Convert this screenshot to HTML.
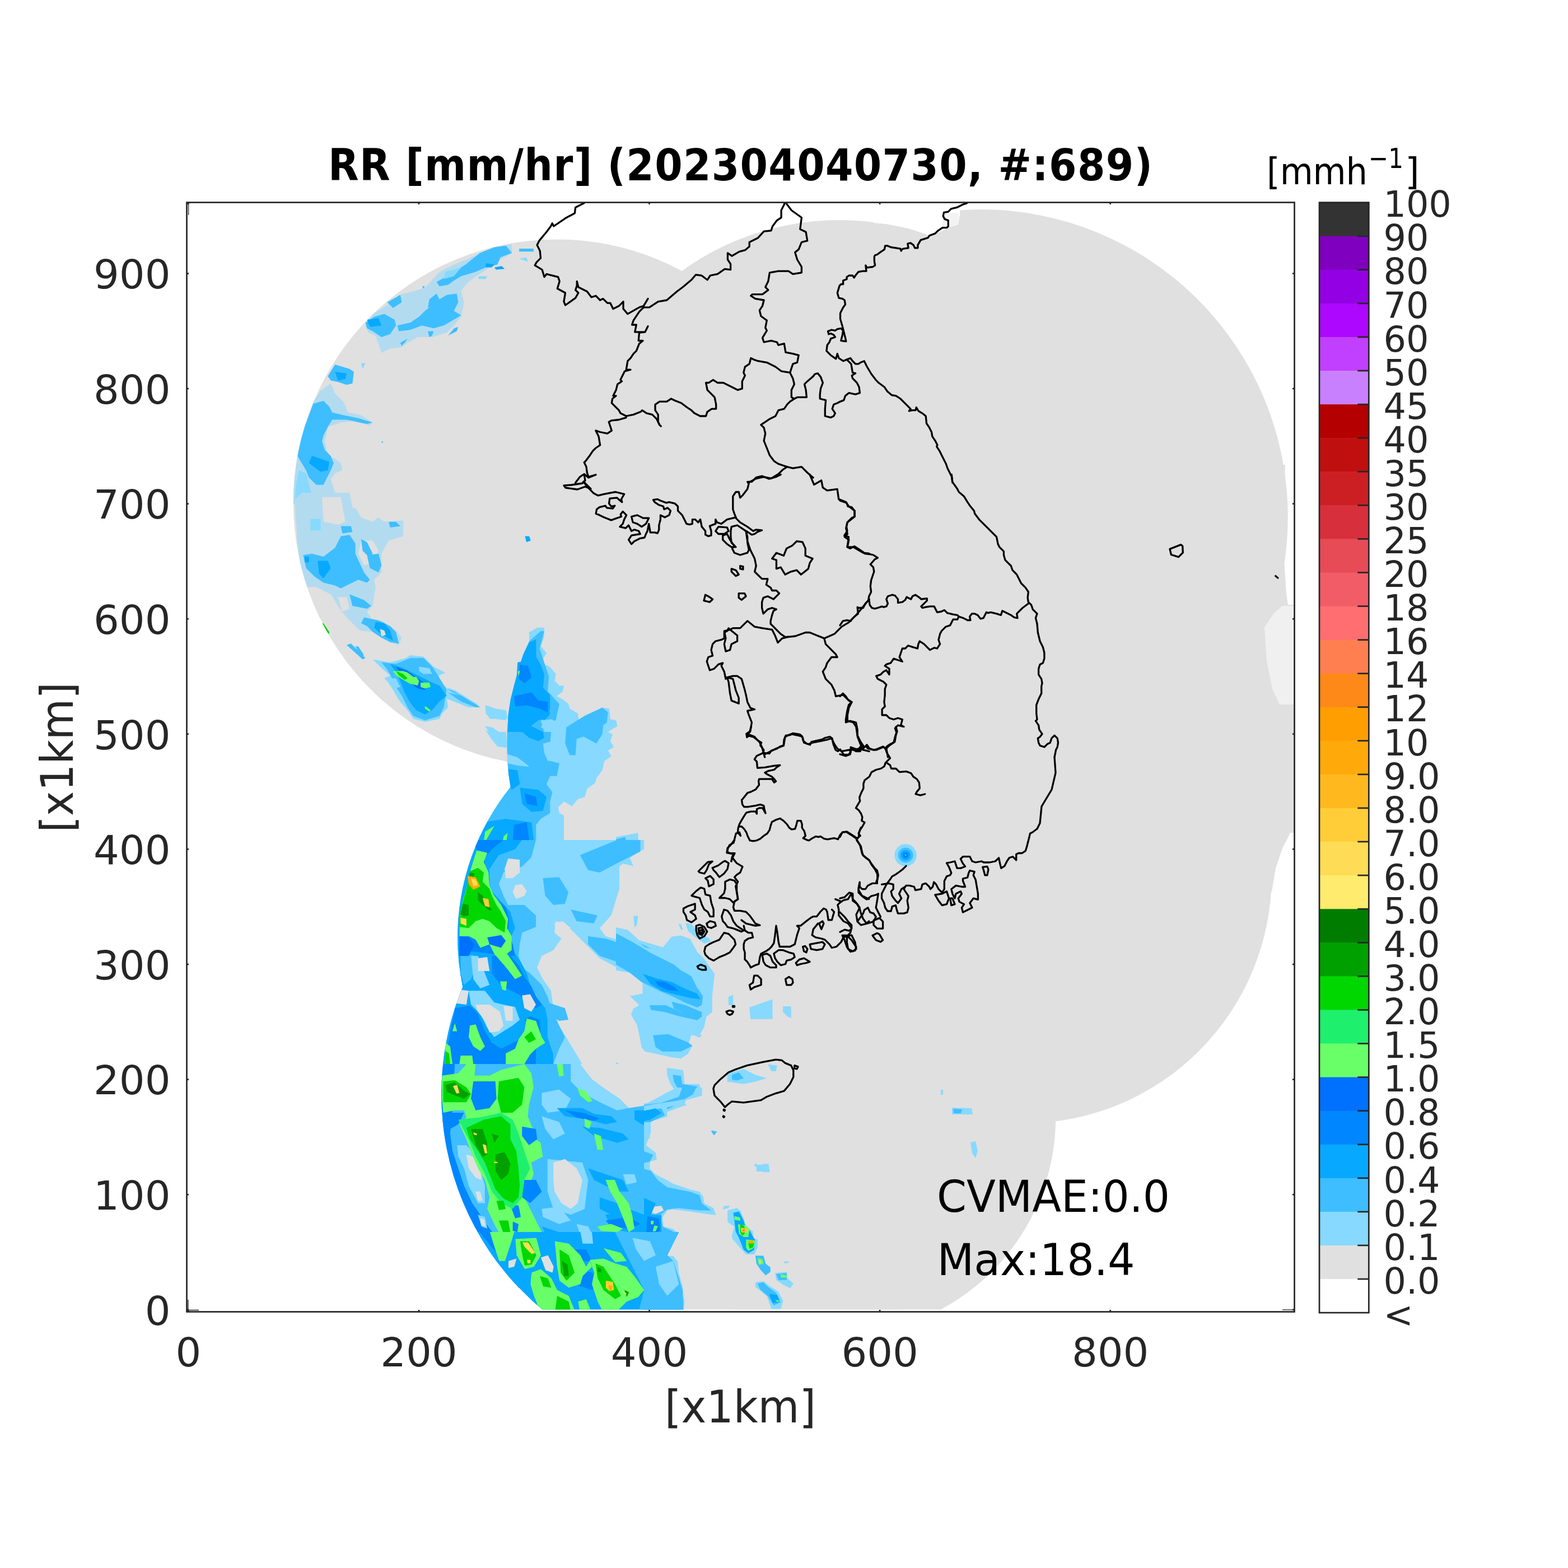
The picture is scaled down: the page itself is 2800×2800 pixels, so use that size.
<!DOCTYPE html>
<html><head><meta charset="utf-8"><title>RR</title>
<style>html,body{margin:0;padding:0;background:#fff;width:2800px;height:2800px;overflow:hidden}
svg{display:block;font-family:'DejaVu Sans', 'Liberation Sans', sans-serif}</style></head>
<body><svg width="2800" height="2800" viewBox="0 0 2800 2800">
<rect width="2800" height="2800" fill="#fff"/>
<defs><clipPath id="ax"><rect x="333.5" y="361.5" width="1978.0" height="1981.0"/></clipPath><clipPath id="cov"><circle cx="994.3" cy="898" r="470.5"/><circle cx="1499.2" cy="875.9" r="482.9"/><circle cx="1750.5" cy="923.2" r="549.3"/><circle cx="1828.3" cy="1563.5" r="442.6"/><circle cx="1495.6" cy="1995.3" r="389.6"/><circle cx="1247.2" cy="1674.3" r="430"/><circle cx="1289" cy="1953.9" r="500.8"/><circle cx="1332" cy="1330" r="427"/><polygon fill="#e0e0e0" points="2150,830 2295,830 2292,900 2293,1000 2297,1060 2300,1080 2312,1080 2312,1487 2304,1487 2290,1515 2278,1550 2271,1592 2200,1600 2100,1300"/>
<polygon fill="#f0f0f0" points="2290,1082 2275,1095 2258,1120 2262,1180 2272,1230 2285,1258 2312,1258 2312,1082"/>
<polygon fill="#ffffff" points="1600,362 1714,362 1714,383 1711,401 1694,406 1679,414 1660,421 1641,414 1622,408 1603,404 1583,400 1560,398 1560,362"/>
<polygon fill="#f3f3f3" points="1685,380 1712,380 1711,400 1695,405 1682,410"/>
</clipPath></defs>
<clipPath id="mp"><rect x="336" y="364.5" width="1976" height="1974"/></clipPath>
<g clip-path="url(#ax)"><g clip-path="url(#mp)">
<circle cx="994.3" cy="898" r="470.5" fill="#e0e0e0"/>
<circle cx="1499.2" cy="875.9" r="482.9" fill="#e0e0e0"/>
<circle cx="1750.5" cy="923.2" r="549.3" fill="#e0e0e0"/>
<circle cx="1828.3" cy="1563.5" r="442.6" fill="#e0e0e0"/>
<circle cx="1495.6" cy="1995.3" r="389.6" fill="#e0e0e0"/>
<circle cx="1247.2" cy="1674.3" r="430" fill="#e0e0e0"/>
<circle cx="1289" cy="1953.9" r="500.8" fill="#e0e0e0"/>
<circle cx="1332" cy="1330" r="427" fill="#e0e0e0"/>
<polygon fill="#e0e0e0" points="2150,830 2295,830 2292,900 2293,1000 2297,1060 2300,1080 2312,1080 2312,1487 2304,1487 2290,1515 2278,1550 2271,1592 2200,1600 2100,1300"/>
<polygon fill="#f0f0f0" points="2290,1082 2275,1095 2258,1120 2262,1180 2272,1230 2285,1258 2312,1258 2312,1082"/>
<polygon fill="#ffffff" points="1600,362 1714,362 1714,383 1711,401 1694,406 1679,414 1660,421 1641,414 1622,408 1603,404 1583,400 1560,398 1560,362"/>
<polygon fill="#f3f3f3" points="1685,380 1712,380 1711,400 1695,405 1682,410"/>

<g clip-path="url(#cov)"><polygon fill="#87d9ff" points="944.9,1129.0 959.4,1120.7 971.8,1120.7 971.8,1137.3 965.6,1153.8 976.0,1166.3 965.6,1182.8 982.2,1191.1 992.5,1203.5 990.5,1215.9 998.8,1224.2 1007.0,1224.2 1005.0,1234.6 994.6,1242.9 1005.0,1249.1 1015.3,1257.3 1017.4,1265.6 1031.9,1273.9 1034.0,1286.3 1044.3,1282.2 1075.4,1263.6 1087.8,1265.6 1089.9,1284.3 1100.2,1286.3 1102.3,1296.7 1085.7,1307.0 1094.0,1311.2 1089.9,1323.6 1096.1,1334.0 1085.7,1340.2 1091.9,1350.5 1079.5,1358.8 1075.4,1375.4 1065.0,1389.9 1062.9,1398.1 1048.4,1408.5 1044.3,1423.0 1031.9,1427.1 1021.5,1439.5 1007.0,1431.3 996.7,1441.6 998.8,1452.0 1007.0,1456.1 1007.0,1472.7 1007.0,1500.0 847.6,1500.0 858.0,1472.7 870.4,1447.8 887.0,1423.0 897.3,1410.6 903.5,1389.9 906.6,1369.2 905.6,1338.1 905.6,1307.0 907.7,1276.0 911.8,1249.1 918.0,1224.2 926.3,1193.2 934.6,1168.3 944.9,1145.5"/>
<polygon fill="#87d9ff" points="800.0,1228.4 812.4,1232.5 851.8,1257.3 855.9,1263.6 841.4,1259.4 800.0,1242.9"/>
<polygon fill="#87d9ff" points="866.3,1296.7 878.7,1298.8 891.1,1307.0 903.5,1307.0 905.6,1334.0 891.1,1329.8 878.7,1315.3"/>
<polygon fill="#87d9ff" points="866.3,1259.4 874.5,1261.5 899.4,1271.8 903.5,1286.3 887.0,1284.3 868.3,1276.0"/>
<polygon fill="#3ebeff" points="949.1,1141.4 965.6,1126.9 971.8,1126.9 963.6,1158.0 971.8,1182.8 980.1,1207.7 978.1,1234.6 998.8,1257.3 992.5,1286.3 971.8,1290.5 965.6,1298.8 984.3,1307.0 982.2,1327.7 971.8,1338.1 982.2,1358.8 998.8,1362.9 994.6,1385.7 982.2,1385.7 976.0,1400.2 986.3,1414.7 982.2,1431.3 982.2,1452.0 965.6,1462.3 957.3,1472.7 957.3,1500.0 847.6,1500.0 858.0,1472.7 870.4,1447.8 887.0,1423.0 897.3,1410.6 903.5,1389.9 906.6,1369.2 905.6,1338.1 905.6,1307.0 907.7,1276.0 911.8,1249.1 918.0,1224.2 926.3,1193.2 934.6,1168.3 944.9,1145.5"/>
<polygon fill="#3ebeff" points="1011.2,1298.8 1044.3,1278.1 1075.4,1263.6 1085.7,1271.8 1083.6,1290.5 1077.4,1294.6 1075.4,1311.2 1065.0,1327.7 1042.2,1315.3 1029.8,1319.5 1027.7,1348.4 1017.4,1348.4 1009.1,1327.7"/>
<polygon fill="#3ebeff" points="800.0,1230.4 810.4,1234.6 845.5,1255.3 849.7,1261.5 837.3,1257.3 800.0,1240.8"/>
<polygon fill="#87d9ff" points="905.6,1346.4 924.2,1352.6 940.8,1365.0 944.9,1369.2 924.2,1367.1 905.6,1362.9"/>
<polygon fill="#87d9ff" points="965.6,1286.3 986.3,1284.3 996.7,1298.8 986.3,1307.0 971.8,1307.0"/>
<polygon fill="#87d9ff" points="969.8,1327.7 986.3,1323.6 998.8,1338.1 990.5,1358.8 978.1,1358.8 971.8,1344.3"/>
<polygon fill="#07a8ff" points="934.6,1168.3 944.9,1147.6 957.3,1141.4 957.3,1172.5 965.6,1187.0 971.8,1203.5 969.8,1228.4 982.2,1240.8 982.2,1265.6 976.0,1282.2 961.5,1286.3 944.9,1298.8 932.5,1307.0 915.9,1307.0 906.6,1307.0 907.7,1276.0 911.8,1249.1 918.0,1224.2 926.3,1193.2"/>
<polygon fill="#07a8ff" points="924.2,1182.8 944.9,1178.7 957.3,1195.2 959.4,1218.0 944.9,1224.2 932.5,1224.2 922.2,1215.9"/>
<polygon fill="#07a8ff" points="915.9,1234.6 944.9,1232.5 978.1,1249.1 982.2,1276.0 971.8,1286.3 957.3,1278.1 944.9,1261.5 920.1,1263.6 913.9,1249.1"/>
<polygon fill="#07a8ff" points="909.7,1269.8 944.9,1276.0 949.1,1296.7 969.8,1307.0 971.8,1317.4 961.5,1323.6 944.9,1317.4 932.5,1307.0 915.9,1307.0 907.7,1307.0"/>
<polygon fill="#07a8ff" points="907.7,1373.3 924.2,1375.4 928.4,1400.2 913.9,1410.6 908.7,1400.2"/>
<polygon fill="#07a8ff" points="928.4,1406.4 961.5,1410.6 976.0,1423.0 969.8,1447.8 949.1,1449.9 932.5,1435.4"/>
<polygon fill="#07a8ff" points="860.0,1468.5 903.5,1462.3 949.1,1468.5 953.2,1500.0 849.7,1500.0"/>
<polygon fill="#0086ff" points="928.4,1187.0 942.9,1189.0 949.1,1209.7 936.6,1220.1 926.3,1211.8"/>
<polygon fill="#0086ff" points="918.0,1242.9 949.1,1236.6 961.5,1251.1 978.1,1253.2 978.1,1271.8 963.6,1265.6 940.8,1259.4 920.1,1261.5"/>
<polygon fill="#0086ff" points="936.6,1416.8 957.3,1423.0 959.4,1439.5 940.8,1435.4"/>
<polygon fill="#0086ff" points="918.0,1472.7 940.8,1468.5 944.9,1500.0 915.9,1500.0"/>
<polygon fill="#69ff69" points="924.2,1199.4 928.4,1197.3 926.7,1206.6"/>
<polygon fill="#69ff69" points="866.3,1485.1 882.8,1474.7 874.5,1489.2 868.3,1500.0 864.2,1500.0"/>
<polygon fill="#69ff69" points="899.4,1493.4 906.6,1487.2 904.6,1500.0 898.3,1500.0"/>
<polygon fill="#87d9ff" points="1100.0,1494.6 1139.3,1487.4 1140.4,1521.5 1124.8,1531.9 1131.1,1546.4 1112.4,1542.2 1100.0,1552.6"/>
<polygon fill="#3ebeff" points="1100.0,1498.8 1116.6,1494.6 1120.7,1517.4 1108.3,1534.0 1100.0,1536.0"/>
<polygon fill="#87d9ff" points="1100.0,1548.4 1106.2,1560.9 1104.1,1589.9 1100.0,1591.9"/>
<polygon fill="#87d9ff" points="1100.0,1656.1 1120.7,1660.2 1141.4,1678.9 1182.8,1691.3 1187.0,1700.0 1100.0,1700.0"/>
<polygon fill="#3ebeff" points="1100.0,1658.2 1112.4,1664.4 1131.1,1678.9 1162.1,1693.4 1168.3,1700.0 1100.0,1700.0"/>
<polygon fill="#87d9ff" points="1199.4,1672.7 1215.9,1670.6 1232.5,1676.8 1244.9,1700.0 1199.4,1700.0"/>
<polygon fill="#87d9ff" points="1224.2,1647.8 1234.6,1649.9 1249.1,1668.5 1265.6,1674.7 1269.8,1681.0 1257.3,1685.1 1240.8,1672.7 1228.4,1662.3"/>
<polygon fill="#87d9ff" points="1211.8,1649.9 1215.9,1649.9 1220.1,1660.2 1215.9,1660.2"/>
<polygon fill="#87d9ff" points="1131.1,1635.4 1139.3,1635.4 1137.3,1652.0 1133.1,1656.1"/>
<polygon fill="#87d9ff" points="843.2,1500.0 1150.0,1500.0 1150.0,1516.6 1106.1,1539.3 1106.1,1587.0 1091.6,1634.6 1070.9,1657.3 1081.3,1671.8 1150.0,1692.5 1150.0,1760.9 1133.0,1748.4 1102.0,1727.7 1070.9,1711.2 1046.1,1686.3 1025.4,1665.6 1008.8,1649.1 992.2,1644.9 990.2,1665.6 1002.6,1676.0 988.1,1696.7 967.4,1707.0 959.1,1727.7 969.5,1748.4 984.0,1769.2 988.1,1800.2 998.4,1831.3 1017.1,1862.3 1035.7,1893.4 1039.9,1900.0 782.1,1900.0 785.2,1872.7 789.3,1856.1 793.5,1831.3 798.7,1810.6 803.8,1794.0 808.0,1781.6 809.0,1769.2 810.0,1738.1 808.0,1707.0 808.0,1665.6 809.0,1634.6 814.2,1607.7 820.4,1587.0 826.6,1558.0 832.8,1537.3 839.0,1518.6"/>
<polygon fill="#3ebeff" points="843.2,1500.0 957.0,1500.0 948.8,1531.1 932.2,1547.6 899.1,1558.0 890.8,1578.7 899.1,1599.4 907.3,1615.9 936.3,1615.9 957.0,1634.6 957.0,1655.3 932.2,1665.6 928.1,1686.3 926.0,1707.0 932.2,1727.7 946.7,1738.1 967.4,1758.8 977.7,1779.5 988.1,1810.6 998.4,1831.3 1008.8,1852.0 998.4,1872.7 988.1,1900.0 782.1,1900.0 785.2,1872.7 789.3,1856.1 793.5,1831.3 798.7,1810.6 803.8,1794.0 808.0,1781.6 809.0,1769.2 810.0,1738.1 808.0,1707.0 808.0,1665.6 809.0,1634.6 814.2,1607.7 820.4,1587.0 826.6,1558.0 832.8,1537.3 839.0,1518.6"/>
<polygon fill="#3ebeff" points="969.5,1568.3 998.4,1566.3 1015.0,1593.2 1008.8,1613.9 988.1,1615.9 973.6,1599.4"/>
<polygon fill="#3ebeff" points="1035.7,1526.9 1102.0,1500.0 1143.4,1500.0 1143.4,1520.7 1102.0,1541.4 1070.9,1558.0 1050.2,1553.8"/>
<polygon fill="#3ebeff" points="1019.2,1624.2 1066.8,1634.6 1060.6,1649.1 1029.5,1644.9"/>
<polygon fill="#3ebeff" points="1050.2,1671.8 1081.3,1676.0 1112.3,1686.3 1150.0,1698.8 1150.0,1758.8 1133.0,1738.1 1102.0,1717.4 1070.9,1707.0 1050.2,1686.3"/>
<polygon fill="#3ebeff" points="977.7,1789.9 1008.8,1800.2 1015.0,1820.9 998.4,1823.0 977.7,1810.6"/>
<polygon fill="#07a8ff" points="843.2,1500.0 932.2,1500.0 919.8,1516.6 890.8,1526.9 874.2,1551.8 874.2,1587.0 894.9,1609.7 911.5,1628.4 919.8,1657.3 911.5,1676.0 915.6,1696.7 930.1,1717.4 940.5,1738.1 946.7,1758.8 957.0,1779.5 973.6,1800.2 977.7,1820.9 977.7,1852.0 988.1,1883.0 988.1,1900.0 782.1,1900.0 785.2,1872.7 789.3,1856.1 793.5,1831.3 798.7,1810.6 803.8,1794.0 808.0,1781.6 809.0,1769.2 810.0,1738.1 808.0,1707.0 808.0,1665.6 809.0,1634.6 814.2,1607.7 820.4,1587.0 826.6,1558.0 832.8,1537.3 839.0,1518.6"/>
<polygon fill="#0086ff" points="843.2,1500.0 899.1,1500.0 878.4,1516.6 865.9,1531.1 865.9,1551.8 874.2,1568.3 874.2,1587.0 886.6,1605.6 903.2,1620.1 909.4,1640.8 907.3,1665.6 915.6,1686.3 919.8,1707.0 911.5,1707.0 874.2,1702.9 843.2,1698.8 820.4,1707.0 820.4,1665.6 821.4,1634.6 826.6,1607.7 832.8,1587.0 839.0,1558.0 845.2,1537.3 851.4,1518.6"/>
<polygon fill="#0086ff" points="878.4,1707.0 911.5,1707.0 926.0,1723.6 936.3,1744.3 948.8,1760.9 957.0,1779.5 967.4,1794.0 957.0,1800.2 940.5,1789.9 926.0,1775.4 905.3,1765.0 890.8,1754.7 878.4,1738.1"/>
<polygon fill="#0086ff" points="812.1,1800.2 839.0,1796.1 853.5,1810.6 865.9,1841.6 878.4,1862.3 894.9,1872.7 915.6,1862.3 936.3,1852.0 946.7,1831.3 936.3,1820.9 946.7,1814.7 963.3,1820.9 965.3,1841.6 957.0,1862.3 957.0,1900.0 794.5,1900.0 797.6,1872.7 801.8,1856.1 805.9,1831.3 811.1,1810.6"/>
<polygon fill="#3ebeff" points="822.5,1707.0 845.2,1705.0 849.4,1727.7 841.1,1748.4 828.7,1758.8 822.5,1738.1"/>
<polygon fill="#87d9ff" points="841.1,1707.0 853.5,1707.0 865.9,1738.1 874.2,1758.8 857.7,1765.0 845.2,1748.4"/>
<polygon fill="#e0e0e0" points="853.5,1711.2 870.1,1709.1 874.2,1734.0 853.5,1734.0"/>
<polygon fill="#e0e0e0" points="801.8,1765.0 837.0,1769.2 832.8,1794.0 801.8,1789.9"/>
<polygon fill="#87d9ff" points="837.0,1769.2 865.9,1769.2 882.5,1789.9 899.1,1794.0 919.8,1798.1 928.1,1820.9 915.6,1831.3 899.1,1841.6 882.5,1852.0 870.1,1835.4 857.7,1810.6 841.1,1794.0"/>
<polygon fill="#e0e0e0" points="849.4,1794.0 874.2,1794.0 892.9,1806.4 899.1,1831.3 890.8,1841.6 874.2,1843.7 865.9,1823.0 853.5,1806.4"/>
<polygon fill="#e0e0e0" points="899.1,1796.1 915.6,1798.1 915.6,1823.0 903.2,1823.0"/>
<polygon fill="#e0e0e0" points="932.2,1777.4 946.7,1775.4 957.0,1794.0 948.8,1806.4 936.3,1800.2"/>
<polygon fill="#e0e0e0" points="907.3,1533.1 928.1,1535.2 928.1,1558.0 915.6,1568.3 903.2,1568.3 901.1,1551.8"/>
<polygon fill="#e0e0e0" points="919.8,1580.7 932.2,1578.7 940.5,1591.1 936.3,1599.4 921.8,1605.6 915.6,1593.2"/>
<polygon fill="#e0e0e0" points="990.2,1649.1 1004.7,1644.9 1019.2,1657.3 1008.8,1671.8 994.3,1669.8"/>
<polygon fill="#e0e0e0" points="1004.7,1707.0 1019.2,1690.5 1039.9,1696.7 1029.5,1717.4 1008.8,1717.4"/>
<polygon fill="#0086ff" points="870.1,1673.9 894.9,1669.8 903.2,1680.1 894.9,1690.5 874.2,1686.3"/>
<polygon fill="#69ff69" points="851.4,1518.6 870.1,1522.8 863.9,1539.3 872.2,1558.0 874.2,1582.8 882.5,1599.4 894.9,1615.9 907.3,1640.8 905.3,1657.3 913.6,1671.8 913.6,1696.7 905.3,1702.9 915.6,1717.4 932.2,1742.2 919.8,1748.4 907.3,1731.9 894.9,1717.4 882.5,1702.9 874.2,1686.3 857.7,1692.5 849.4,1678.1 837.0,1671.8 820.4,1671.8 821.4,1634.6 826.6,1607.7 832.8,1587.0 839.0,1558.0 845.2,1537.3"/>
<polygon fill="#0070ff" points="870.1,1673.9 894.9,1669.8 903.2,1680.1 894.9,1692.5 874.2,1686.3"/>
<polygon fill="#0070ff" points="820.4,1671.8 837.0,1673.9 847.3,1686.3 837.0,1707.0 820.4,1707.0"/>
<polygon fill="#00d700" points="839.0,1555.9 853.5,1549.7 863.9,1558.0 861.8,1574.5 874.2,1587.0 878.4,1599.4 886.6,1615.9 894.9,1628.4 903.2,1644.9 901.1,1665.6 886.6,1657.3 874.2,1644.9 861.8,1640.8 849.4,1644.9 837.0,1657.3 820.4,1655.3 822.5,1624.2 832.8,1589.0"/>
<polygon fill="#00a000" points="839.0,1558.0 847.3,1560.0 845.2,1572.5 837.0,1570.4"/>
<polygon fill="#00a000" points="826.6,1613.9 837.0,1615.9 837.0,1634.6 828.7,1636.6 822.5,1632.5"/>
<polygon fill="#00a000" points="853.5,1593.2 861.8,1599.4 870.1,1613.9 878.4,1624.2 874.2,1626.3 861.8,1615.9 853.5,1607.7"/>
<polygon fill="#ffaa0a" points="834.9,1564.2 849.4,1566.3 857.7,1582.8 845.2,1589.0 837.0,1578.7"/>
<polygon fill="#ffdc55" points="841.1,1568.3 849.4,1570.4 853.5,1580.7 845.2,1582.8"/>
<polygon fill="#ffcd37" points="861.8,1603.5 872.2,1605.6 874.2,1620.1 865.9,1618.0"/>
<polygon fill="#ffdc55" points="822.5,1638.7 832.8,1640.8 832.8,1653.2 822.5,1649.1"/>
<polygon fill="#69ff69" points="940.5,1818.8 957.0,1823.0 967.4,1852.0 973.6,1862.3 957.0,1872.7 946.7,1883.0 936.3,1900.0 903.2,1900.0 903.2,1881.0 919.8,1872.7 926.0,1856.1 936.3,1841.6"/>
<polygon fill="#69ff69" points="839.0,1831.3 849.4,1829.2 857.7,1852.0 865.9,1868.5 857.7,1876.8 845.2,1868.5 837.0,1852.0"/>
<polygon fill="#69ff69" points="892.9,1752.6 905.3,1752.6 903.2,1769.2 897.0,1767.1"/>
<polygon fill="#69ff69" points="795.5,1862.3 803.8,1868.5 808.0,1900.0 794.5,1900.0"/>
<polygon fill="#69ff69" points="822.5,1885.1 843.2,1885.1 845.2,1900.0 820.4,1900.0"/>
<polygon fill="#69ff69" points="812.1,1827.1 816.3,1841.6 808.0,1841.6"/>
<polygon fill="#00d700" points="936.3,1852.0 948.8,1841.6 957.0,1856.1 944.6,1862.3"/>
<polygon fill="#00d700" points="795.5,1876.8 801.8,1881.0 803.8,1900.0 794.5,1900.0"/>
<polygon fill="#87d9ff" points="1100.0,1656.2 1124.8,1670.7 1151.8,1691.4 1178.7,1697.6 1199.4,1672.8 1215.9,1672.8 1232.5,1679.0 1244.9,1699.7 1257.3,1712.1 1276.0,1739.0 1271.8,1778.4 1271.8,1807.3 1261.5,1815.6 1257.3,1834.3 1249.1,1848.8 1234.6,1848.8 1228.4,1867.4 1236.6,1867.4 1228.4,1881.9 1215.9,1890.2 1199.4,1888.1 1172.5,1881.9 1151.8,1877.7 1145.5,1869.5 1141.4,1846.7 1137.3,1830.1 1126.9,1811.5 1131.1,1801.1 1141.4,1794.9 1120.7,1774.2 1100.0,1765.9"/>
<polygon fill="#e0e0e0" points="1100.0,1732.8 1124.8,1737.0 1147.6,1755.6 1147.6,1774.2 1126.9,1778.4 1100.0,1765.9"/>
<polygon fill="#3ebeff" points="1100.0,1666.6 1131.1,1683.1 1162.1,1701.8 1182.8,1712.1 1203.5,1722.5 1215.9,1732.8 1234.6,1743.2 1244.9,1763.9 1255.3,1778.4 1253.2,1794.9 1244.9,1799.1 1224.2,1790.8 1199.4,1778.4 1178.7,1770.1 1162.1,1761.8 1145.5,1753.5 1124.8,1737.0 1100.0,1722.5"/>
<polygon fill="#3ebeff" points="1160.0,1794.9 1189.0,1794.9 1215.9,1807.3 1244.9,1807.3 1253.2,1815.6 1244.9,1821.8 1215.9,1815.6 1187.0,1807.3 1162.1,1803.2"/>
<polygon fill="#3ebeff" points="1199.4,1788.7 1224.2,1794.9 1253.2,1807.3 1253.2,1815.6 1234.6,1815.6 1203.5,1801.1"/>
<polygon fill="#3ebeff" points="1166.3,1848.8 1193.2,1846.7 1228.4,1861.2 1236.6,1867.4 1215.9,1877.7 1182.8,1877.7 1170.4,1869.5"/>
<polygon fill="#07a8ff" points="1147.6,1739.0 1172.5,1747.3 1199.4,1753.5 1224.2,1765.9 1244.9,1774.2 1251.1,1784.6 1234.6,1782.5 1207.7,1776.3 1182.8,1770.1 1162.1,1757.7"/>
<polygon fill="#0086ff" points="1170.4,1751.4 1187.0,1753.5 1203.5,1761.8 1211.8,1770.1 1193.2,1768.0 1174.5,1759.7"/>
<polygon fill="#87d9ff" points="1207.7,1826.0 1224.2,1832.2 1253.2,1848.8 1249.1,1852.9 1224.2,1842.5 1205.6,1832.2"/>
<polygon fill="#87d9ff" points="1191.1,1906.7 1220.1,1910.9 1222.2,1935.7 1249.1,1935.7 1253.2,1956.4 1224.2,1964.7 1215.9,1973.0 1203.5,1964.7 1207.7,1950.2 1197.3,1935.7 1191.1,1919.2"/>
<polygon fill="#3ebeff" points="1201.4,1919.2 1215.9,1921.2 1218.0,1935.7 1244.9,1939.9 1244.9,1952.3 1224.2,1956.4 1211.8,1946.1 1203.5,1931.6"/>
<polygon fill="#87d9ff" points="1100.0,1944.0 1124.8,1952.3 1133.1,1973.0 1162.1,1968.8 1193.2,1964.7 1215.9,1964.7 1226.3,1973.0 1191.1,1985.4 1162.1,1997.8 1162.1,2022.7 1151.8,2050.0 1100.0,2050.0"/>
<polygon fill="#3ebeff" points="1100.0,1952.3 1120.7,1960.6 1126.9,1977.1 1162.1,1975.1 1193.2,1968.8 1215.9,1968.8 1191.1,1981.3 1162.1,1991.6 1141.4,2002.0 1145.5,2026.8 1131.1,2050.0 1100.0,2050.0"/>
<polygon fill="#07a8ff" points="1100.0,2002.0 1120.7,1997.8 1141.4,1989.5 1162.1,1981.3 1189.0,1975.1 1172.5,1985.4 1151.8,1997.8 1141.4,2012.3 1133.1,2033.0 1120.7,2050.0 1100.0,2050.0"/>
<polygon fill="#0086ff" points="1100.0,2022.7 1108.3,2022.7 1110.4,2050.0 1100.0,2050.0"/>
<polygon fill="#87d9ff" points="1100.0,1896.4 1106.2,1900.5 1104.1,1902.6 1100.0,1901.6"/>
<polygon fill="#87d9ff" points="1112.4,1906.7 1122.8,1915.0 1118.6,1916.0 1112.4,1910.9"/>
<polygon fill="#87d9ff" points="1298.8,1917.1 1327.7,1908.8 1348.4,1919.2 1369.2,1925.4 1348.4,1931.6 1327.7,1935.7 1298.8,1931.6"/>
<polygon fill="#3ebeff" points="1307.0,1919.2 1319.5,1915.0 1327.7,1925.4 1315.3,1929.5 1307.0,1927.4"/>
<polygon fill="#87d9ff" points="1371.2,1900.5 1387.8,1902.6 1385.7,1912.9 1377.4,1912.9"/>
<polygon fill="#87d9ff" points="1338.1,1799.1 1379.5,1784.6 1379.5,1819.8 1340.2,1819.8"/>
<polygon fill="#87d9ff" points="1398.1,1797.0 1412.6,1797.0 1412.6,1817.7 1406.4,1815.6 1398.1,1807.3"/>
<polygon fill="#87d9ff" points="1300.8,1780.4 1309.1,1776.3 1309.1,1794.9 1300.8,1794.9"/>
<polygon fill="#3ebeff" points="1269.8,2020.6 1280.1,2020.6 1276.0,2026.8"/>
<polygon fill="#3ebeff" points="792.4,1900.0 1150.0,1900.0 1150.0,2300.0 919.8,2300.0 903.2,2276.8 882.5,2252.0 861.8,2220.9 841.1,2189.9 824.5,2158.8 810.0,2127.7 799.7,2102.9 791.4,2076.0 785.2,2044.9 780.0,2013.9 776.9,1982.8 776.9,1920.7 780.0,1900.0"/>
<polygon fill="#e0e0e0" points="1035.7,1900.0 1150.0,1900.0 1150.0,1974.5 1122.7,1978.7 1106.1,1962.1 1081.3,1945.5 1056.4,1926.9"/>
<polygon fill="#87d9ff" points="1019.2,1900.0 1035.7,1900.0 1056.4,1926.9 1081.3,1945.5 1106.1,1962.1 1122.7,1978.7 1102.0,1982.8 1070.9,1968.3 1039.9,1951.8 1019.2,1931.1"/>
<polygon fill="#87d9ff" points="967.4,1951.8 998.4,1945.5 1019.2,1962.1 1008.8,1982.8 977.7,1987.0 967.4,1972.5"/>
<polygon fill="#87d9ff" points="967.4,1993.2 998.4,2003.5 1008.8,2024.2 988.1,2034.6 973.6,2015.9"/>
<polygon fill="#87d9ff" points="977.7,2069.8 1039.9,2076.0 1050.2,2107.0 1044.0,2158.8 1019.2,2169.2 988.1,2158.8 977.7,2127.7"/>
<polygon fill="#e0e0e0" points="988.1,2076.0 1008.8,2069.8 1029.5,2086.3 1039.9,2107.0 1035.7,2127.7 1031.6,2148.4 1019.2,2158.8 1002.6,2148.4 990.2,2127.7 988.1,2107.0"/>
<polygon fill="#87d9ff" points="967.4,2158.8 998.4,2154.7 1019.2,2179.5 998.4,2185.7 969.5,2173.3"/>
<polygon fill="#87d9ff" points="1029.5,2185.7 1050.2,2189.9 1060.6,2210.6 1039.9,2214.7"/>
<polygon fill="#87d9ff" points="1112.3,2096.7 1133.0,2096.7 1137.2,2111.2 1118.5,2115.3"/>
<polygon fill="#07a8ff" points="994.3,1978.7 1039.9,1978.7 1060.6,1989.0 1091.6,1993.2 1102.0,2003.5 1081.3,2007.7 1050.2,1999.4 1008.8,1993.2"/>
<polygon fill="#07a8ff" points="1039.9,2011.8 1070.9,2013.9 1112.3,2024.2 1122.7,2034.6 1102.0,2040.8 1060.6,2028.4"/>
<polygon fill="#07a8ff" points="1133.0,1982.8 1150.0,1982.8 1150.0,2009.7 1133.0,1999.4"/>
<polygon fill="#07a8ff" points="1050.2,2086.3 1081.3,2096.7 1112.3,2107.0 1122.7,2127.7 1102.0,2127.7 1060.6,2107.0"/>
<polygon fill="#07a8ff" points="1070.9,2138.1 1102.0,2148.4 1112.3,2173.3 1091.6,2169.2 1070.9,2158.8"/>
<polygon fill="#07a8ff" points="967.4,2189.9 998.4,2200.2 1019.2,2220.9 1008.8,2231.3 977.7,2210.6"/>
<polygon fill="#07a8ff" points="1081.3,2169.2 1122.7,2158.8 1150.0,2169.2 1150.0,2200.2 1122.7,2200.2 1091.6,2194.0"/>
<polygon fill="#07a8ff" points="1060.6,2210.6 1091.6,2206.4 1122.7,2220.9 1112.3,2241.6 1081.3,2235.4"/>
<polygon fill="#07a8ff" points="1102.0,2252.0 1150.0,2252.0 1150.0,2300.0 1102.0,2300.0"/>
<polygon fill="#0086ff" points="1008.8,1982.8 1039.9,1987.0 1070.9,1997.3 1060.6,2001.4 1029.5,1995.2"/>
<polygon fill="#0086ff" points="1081.3,2179.5 1122.7,2173.3 1143.4,2185.7 1122.7,2194.0 1091.6,2189.9"/>
<polygon fill="#0086ff" points="792.4,1900.0 812.1,1900.0 808.0,1982.8 803.8,2024.2 808.0,2055.3 818.3,2086.3 828.7,2117.4 843.2,2148.4 857.7,2169.2 874.2,2194.0 890.8,2214.7 905.3,2231.3 894.9,2247.8 915.6,2276.8 932.2,2300.0 919.8,2300.0 903.2,2276.8 882.5,2252.0 861.8,2220.9 841.1,2189.9 824.5,2158.8 810.0,2127.7 799.7,2102.9 791.4,2076.0 785.2,2044.9 780.0,2013.9 776.9,1982.8 776.9,1920.7 780.0,1900.0"/>
<polygon fill="#87d9ff" points="816.3,2044.9 832.8,2044.9 853.5,2065.6 857.7,2086.3 865.9,2117.4 865.9,2148.4 853.5,2148.4 837.0,2117.4 828.7,2086.3 818.3,2065.6"/>
<polygon fill="#e0e0e0" points="832.8,2061.5 845.2,2065.6 857.7,2086.3 859.7,2107.0 849.4,2102.9 837.0,2086.3"/>
<polygon fill="#e0e0e0" points="849.4,2127.7 857.7,2127.7 861.8,2144.3 853.5,2144.3"/>
<polygon fill="#87d9ff" points="853.5,2169.2 865.9,2173.3 870.1,2194.0 859.7,2189.9"/>
<polygon fill="#e0e0e0" points="857.7,2175.4 864.9,2177.4 867.0,2189.9 859.7,2187.8"/>
<polygon fill="#87d9ff" points="905.3,2241.6 926.0,2235.4 932.2,2252.0 915.6,2262.3 907.3,2260.2"/>
<polygon fill="#87d9ff" points="967.4,2241.6 977.7,2235.4 988.1,2252.0 988.1,2283.0 973.6,2272.7"/>
<polygon fill="#e0e0e0" points="969.5,2247.8 977.7,2243.7 984.0,2268.5 977.7,2272.7"/>
<polygon fill="#69ff69" points="789.3,1920.7 818.3,1916.6 832.8,1900.0 849.4,1900.0 847.3,1920.7 874.2,1920.7 894.9,1910.4 936.3,1900.0 948.8,1916.6 952.9,1941.4 944.6,1972.5 942.5,1993.2 950.8,2013.9 957.0,2034.6 965.3,2040.8 969.5,2065.6 957.0,2071.8 948.8,2076.0 952.9,2096.7 944.6,2117.4 936.3,2138.1 946.7,2158.8 957.0,2179.5 967.4,2200.2 957.0,2210.6 965.3,2231.3 967.4,2262.3 946.7,2268.5 932.2,2256.1 926.0,2220.9 911.5,2210.6 894.9,2206.4 884.6,2189.9 870.1,2158.8 874.2,2138.1 865.9,2107.0 853.5,2086.3 841.1,2057.3 832.8,2034.6 820.4,2007.7 832.8,1995.2 828.7,1982.8 812.1,1982.8 791.4,1987.0 789.3,1962.1"/>
<polygon fill="#0086ff" points="845.2,1931.1 884.6,1931.1 886.6,1962.1 874.2,1978.7 849.4,1982.8 841.1,1962.1"/>
<polygon fill="#0086ff" points="932.2,2011.8 957.0,2015.9 959.1,2034.6 944.6,2044.9 932.2,2028.4"/>
<polygon fill="#0086ff" points="936.3,2107.0 957.0,2107.0 967.4,2127.7 946.7,2148.4 932.2,2138.1"/>
<polygon fill="#0086ff" points="911.5,2152.6 926.0,2152.6 930.1,2173.3 919.8,2175.4"/>
<polygon fill="#0086ff" points="915.6,2181.6 926.0,2185.7 923.9,2200.2 915.6,2198.1"/>
<polygon fill="#0086ff" points="799.7,1987.0 828.7,1987.0 818.3,2007.7 803.8,2015.9"/>
<polygon fill="#1ef06e" points="818.3,1999.4 837.0,1997.3 857.7,1995.2 894.9,1987.0 915.6,1999.4 926.0,2024.2 936.3,2055.3 946.7,2086.3 936.3,2107.0 932.2,2138.1 915.6,2158.8 894.9,2148.4 878.4,2127.7 865.9,2096.7 849.4,2065.6 837.0,2034.6"/>
<polygon fill="#69ff69" points="1031.6,1943.5 1044.0,1947.6 1058.5,1966.3 1050.2,1968.3 1035.7,1955.9"/>
<polygon fill="#69ff69" points="1044.0,1997.3 1056.4,2003.5 1052.3,2015.9 1044.0,2011.8"/>
<polygon fill="#69ff69" points="1060.6,2024.2 1073.0,2028.4 1077.1,2053.2 1066.8,2053.2"/>
<polygon fill="#69ff69" points="1081.3,2107.0 1097.8,2107.0 1106.1,2127.7 1122.7,2148.4 1128.9,2169.2 1133.0,2194.0 1122.7,2200.2 1114.4,2179.5 1102.0,2148.4 1089.5,2127.7"/>
<polygon fill="#69ff69" points="1066.8,2189.9 1091.6,2185.7 1112.3,2194.0 1102.0,2200.2 1073.0,2198.1"/>
<polygon fill="#69ff69" points="988.1,2210.6 1008.8,2210.6 1019.2,2231.3 1039.9,2241.6 1050.2,2252.0 1039.9,2272.7 1025.4,2293.4 998.4,2300.0 988.1,2283.0 990.2,2252.0"/>
<polygon fill="#69ff69" points="1056.4,2247.8 1081.3,2241.6 1102.0,2262.3 1122.7,2272.7 1133.0,2300.0 1060.6,2300.0 1050.2,2272.7"/>
<polygon fill="#69ff69" points="1081.3,2220.9 1112.3,2231.3 1122.7,2252.0 1102.0,2252.0 1081.3,2241.6"/>
<polygon fill="#69ff69" points="923.9,2214.7 957.0,2210.6 967.4,2235.4 957.0,2256.1 936.3,2258.2 926.0,2241.6"/>
<polygon fill="#69ff69" points="948.8,2268.5 977.7,2268.5 988.1,2293.4 977.7,2300.0 948.8,2300.0"/>
<polygon fill="#69ff69" points="915.6,2276.8 936.3,2272.7 940.5,2300.0 932.2,2300.0"/>
<polygon fill="#69ff69" points="994.3,1900.0 1004.7,1900.0 1006.7,1920.7 998.4,1922.8"/>
<polygon fill="#00d700" points="791.4,1931.1 812.1,1929.0 832.8,1941.4 841.1,1953.8 832.8,1968.3 812.1,1968.3 791.4,1968.3"/>
<polygon fill="#00d700" points="890.8,1931.1 926.0,1924.8 936.3,1941.4 932.2,1972.5 915.6,1987.0 894.9,1987.0 888.7,1962.1"/>
<polygon fill="#00d700" points="832.8,2013.9 863.9,1999.4 894.9,1993.2 911.5,2007.7 911.5,2034.6 921.8,2055.3 926.0,2086.3 928.1,2117.4 926.0,2138.1 915.6,2148.4 899.1,2140.2 884.6,2123.6 874.2,2096.7 865.9,2076.0 853.5,2055.3 839.0,2034.6"/>
<polygon fill="#00d700" points="886.6,2144.3 899.1,2144.3 903.2,2158.8 890.8,2160.9"/>
<polygon fill="#00d700" points="890.8,2179.5 907.3,2179.5 911.5,2200.2 899.1,2202.3"/>
<polygon fill="#00d700" points="928.1,2218.8 952.9,2216.8 961.2,2239.5 948.8,2256.1 932.2,2247.8"/>
<polygon fill="#00d700" points="994.3,2231.3 1010.9,2231.3 1019.2,2262.3 1008.8,2283.0 998.4,2272.7"/>
<polygon fill="#00d700" points="1060.6,2256.1 1077.1,2256.1 1081.3,2272.7 1070.9,2278.9"/>
<polygon fill="#00d700" points="957.0,2283.0 969.5,2283.0 973.6,2300.0 957.0,2300.0"/>
<polygon fill="#00a000" points="795.5,1937.3 812.1,1933.1 828.7,1947.6 839.0,1953.8 828.7,1962.1 812.1,1955.9 797.6,1949.7"/>
<polygon fill="#00a000" points="841.1,2015.9 861.8,2015.9 870.1,2040.8 870.1,2061.5 861.8,2065.6 849.4,2044.9"/>
<polygon fill="#00a000" points="878.4,2024.2 890.8,2028.4 882.5,2040.8"/>
<polygon fill="#00a000" points="884.6,2061.5 901.1,2057.3 911.5,2078.1 907.3,2096.7 894.9,2107.0 884.6,2090.5"/>
<polygon fill="#00a000" points="998.4,2252.0 1010.9,2254.0 1015.0,2272.7 1004.7,2276.8"/>
<polygon fill="#ffdc55" points="809.0,1939.3 816.3,1937.3 820.4,1951.8 815.2,1952.8"/>
<polygon fill="#ffdc55" points="845.2,2022.2 851.4,2024.2 851.4,2027.3 846.3,2026.3"/>
<polygon fill="#ffdc55" points="861.8,2042.9 868.0,2044.9 870.1,2059.4 865.9,2059.4"/>
<polygon fill="#ffdc55" points="882.5,2073.9 888.7,2074.9 888.7,2077.0 882.5,2077.0"/>
<polygon fill="#ffcd37" points="932.2,2218.8 942.5,2216.8 955.0,2235.4 952.9,2239.5 944.6,2231.3"/>
<polygon fill="#ffdc55" points="941.5,2249.9 946.7,2249.9 946.7,2255.1 941.5,2255.1"/>
<polygon fill="#ffcd37" points="1085.4,2289.2 1093.7,2287.2 1097.8,2300.0 1085.4,2300.0"/>
<polygon fill="#87d9ff" points="1208.0,1942.0 1253.5,1942.0 1253.5,1956.5 1226.6,1960.6 1222.5,1971.0 1191.4,1977.2 1191.4,1993.8 1170.7,2000.0 1160.4,2004.1 1160.4,2033.1 1150.0,2033.1 1150.0,1973.1"/>
<polygon fill="#3ebeff" points="1150.0,1975.1 1170.7,1971.0 1201.8,1966.8 1222.5,1962.7 1237.0,1954.4 1243.2,1942.0 1218.3,1942.0 1212.1,1958.6 1181.1,1968.9 1150.0,1973.1"/>
<polygon fill="#3ebeff" points="1150.0,1983.4 1181.1,1979.3 1187.3,1991.7 1160.4,2004.1 1150.0,2004.1"/>
<polygon fill="#07a8ff" points="1150.0,1983.4 1170.7,1979.3 1181.1,1987.5 1160.4,2000.0 1150.0,2002.0"/>
<polygon fill="#87d9ff" points="1150.0,2043.4 1154.1,2045.5 1170.7,2057.9 1172.8,2070.4 1160.4,2074.5 1160.4,2086.9 1170.7,2097.3 1191.4,2107.6 1201.8,2113.8 1232.8,2124.2 1249.4,2128.3 1255.6,2136.6 1257.7,2149.0 1274.2,2157.3 1278.4,2169.7 1261.8,2167.7 1232.8,2163.5 1201.8,2159.4 1191.4,2161.5 1183.1,2173.9 1185.2,2190.4 1201.8,2194.6 1212.1,2202.9 1203.8,2211.2 1191.4,2231.9 1187.3,2244.3 1201.8,2242.2 1210.0,2252.6 1212.1,2273.3 1218.3,2294.0 1222.5,2325.0 1220.4,2343.7 1150.0,2343.7"/>
<polygon fill="#3ebeff" points="1150.0,2055.9 1166.6,2062.1 1160.4,2074.5 1150.0,2076.6"/>
<polygon fill="#3ebeff" points="1150.0,2086.9 1162.4,2091.1 1174.8,2107.6 1191.4,2120.1 1212.1,2124.2 1232.8,2128.3 1249.4,2134.5 1253.5,2149.0 1270.1,2161.5 1249.4,2161.5 1212.1,2157.3 1191.4,2159.4 1179.0,2169.7 1183.1,2190.4 1201.8,2198.7 1191.4,2221.5 1181.1,2242.2 1191.4,2252.6 1201.8,2273.3 1208.0,2304.3 1212.1,2343.7 1150.0,2343.7"/>
<polygon fill="#e0e0e0" points="1160.4,2155.3 1181.1,2153.2 1185.2,2161.5 1170.7,2167.7 1160.4,2165.6"/>
<polygon fill="#07a8ff" points="1150.0,2138.7 1170.7,2149.0 1162.4,2169.7 1181.1,2169.7 1181.1,2200.8 1170.7,2221.5 1181.1,2231.9 1170.7,2252.6 1150.0,2252.6"/>
<polygon fill="#0086ff" points="1156.2,2171.8 1176.9,2176.0 1179.0,2196.7 1166.6,2207.0 1154.1,2200.8"/>
<polygon fill="#0086ff" points="1162.4,2227.7 1181.1,2217.4 1195.5,2215.3 1181.1,2242.2 1170.7,2252.6 1162.4,2242.2"/>
<polygon fill="#69ff69" points="1162.4,2180.1 1167.6,2180.1 1166.6,2186.3 1162.4,2186.3"/>
<polygon fill="#69ff69" points="1168.6,2188.4 1174.8,2189.4 1170.7,2198.7 1165.5,2198.7"/>
<polygon fill="#69ff69" points="1158.3,2207.0 1162.4,2204.9 1160.4,2211.2"/>
<polygon fill="#87d9ff" points="1166.6,2265.0 1201.8,2265.0 1212.1,2304.3 1216.3,2335.4 1181.1,2335.4 1170.7,2304.3"/>
<polygon fill="#69ff69" points="1150.0,2304.3 1154.1,2310.5 1150.0,2314.7"/>
<polygon fill="#87d9ff" points="1292.9,2153.2 1303.2,2153.2 1301.1,2157.3 1290.8,2159.4"/>
<polygon fill="#87d9ff" points="1299.1,2161.5 1315.6,2157.3 1321.8,2161.5 1328.1,2176.0 1332.2,2190.4 1344.6,2198.7 1344.6,2211.2 1352.9,2213.2 1352.9,2227.7 1346.7,2240.1 1332.2,2240.1 1315.6,2221.5 1307.3,2211.2 1307.3,2204.9 1311.5,2190.4 1299.1,2182.2 1299.1,2169.7"/>
<polygon fill="#07a8ff" points="1309.4,2165.6 1319.8,2163.5 1328.1,2180.1 1332.2,2194.6 1338.4,2196.7 1348.8,2215.3 1346.7,2231.9 1336.3,2238.1 1328.1,2231.9 1319.8,2211.2 1313.6,2198.7 1311.5,2180.1"/>
<polygon fill="#69ff69" points="1311.5,2171.8 1321.8,2173.9 1321.8,2180.1 1311.5,2178.0"/>
<polygon fill="#69ff69" points="1317.7,2186.3 1332.2,2188.4 1338.4,2194.6 1336.3,2209.1 1328.1,2209.1 1319.8,2202.9"/>
<polygon fill="#69ff69" points="1332.2,2213.2 1348.8,2215.3 1346.7,2227.7 1336.3,2233.9 1332.2,2227.7"/>
<polygon fill="#00d700" points="1321.8,2186.3 1328.1,2188.4 1332.2,2198.7 1326.0,2207.0 1321.8,2200.8"/>
<polygon fill="#00d700" points="1336.3,2219.4 1346.7,2219.4 1344.6,2227.7 1338.4,2229.8"/>
<polygon fill="#ffcd37" points="1322.9,2192.5 1336.3,2194.6 1335.3,2200.8 1323.9,2200.8"/>
<polygon fill="#ff6e71" points="1326.0,2195.6 1330.1,2195.6 1330.1,2198.7 1326.0,2198.7"/>
<polygon fill="#ffaa0a" points="1336.3,2215.3 1345.7,2215.3 1344.6,2220.5 1337.4,2220.5"/>
<polygon fill="#3ebeff" points="1348.8,2242.2 1363.3,2242.2 1367.4,2256.7 1375.7,2262.9 1375.7,2271.2 1367.4,2277.4 1359.1,2269.1 1350.8,2256.7"/>
<polygon fill="#69ff69" points="1352.9,2246.3 1361.2,2248.4 1363.3,2256.7 1355.0,2258.8"/>
<polygon fill="#ffdc55" points="1355.0,2250.5 1359.1,2252.6 1357.0,2256.7"/>
<polygon fill="#87d9ff" points="1384.0,2273.3 1404.7,2271.2 1406.7,2283.6 1417.1,2291.9 1410.9,2300.2 1398.4,2294.0 1386.0,2285.7"/>
<polygon fill="#3ebeff" points="1386.0,2275.3 1404.7,2273.3 1404.7,2285.7 1390.2,2285.7"/>
<polygon fill="#69ff69" points="1394.3,2275.3 1404.7,2277.4 1404.7,2281.5 1394.3,2281.5"/>
<polygon fill="#87d9ff" points="1348.8,2289.8 1363.3,2287.8 1373.6,2296.0 1390.2,2306.4 1398.4,2323.0 1394.3,2337.4 1377.7,2337.4 1369.5,2314.7 1357.0,2304.3 1348.8,2298.1"/>
<polygon fill="#3ebeff" points="1352.9,2291.9 1363.3,2289.8 1371.5,2298.1 1386.0,2308.5 1394.3,2325.0 1381.9,2331.2 1371.5,2314.7 1357.0,2302.2"/>
<polygon fill="#07a8ff" points="1373.6,2310.5 1388.1,2312.6 1392.2,2325.0 1379.8,2327.1"/>
<polygon fill="#69ff69" points="1384.0,2320.9 1394.3,2323.0 1388.1,2325.0"/>
<polygon fill="#87d9ff" points="1400.5,2252.6 1408.8,2252.6 1406.7,2255.7 1400.5,2255.7"/>
<polygon fill="#3ebeff" points="1270.1,2018.6 1280.4,2020.7 1274.2,2026.9"/>
<polygon fill="#87d9ff" points="1346.7,2078.6 1351.9,2078.6 1351.9,2082.8 1347.7,2082.8"/>
<polygon fill="#87d9ff" points="1361.2,2078.6 1372.6,2078.6 1374.6,2093.1 1361.2,2093.1"/>
<polygon fill="#07a8ff" points="850.0,2200.0 1212.3,2200.0 1191.6,2241.4 1202.0,2251.8 1212.3,2282.8 1218.5,2303.5 1220.6,2344.9 965.9,2344.9 945.2,2318.0 920.4,2293.2 889.3,2262.1 868.6,2231.1 843.8,2200.0"/>
<polygon fill="#3ebeff" points="1098.4,2200.0 1212.3,2200.0 1191.6,2241.4 1202.0,2251.8 1212.3,2282.8 1218.5,2303.5 1220.6,2344.9 1139.9,2344.9 1150.2,2303.5 1139.9,2282.8 1119.2,2241.4"/>
<polygon fill="#87d9ff" points="1129.5,2210.4 1160.6,2216.6 1170.9,2241.4 1150.2,2251.8 1135.7,2231.1"/>
<polygon fill="#87d9ff" points="1170.9,2262.1 1202.0,2251.8 1212.3,2293.2 1191.6,2313.9 1177.1,2293.2"/>
<polygon fill="#87d9ff" points="1036.3,2200.0 1057.0,2200.0 1059.1,2220.7 1040.5,2220.7"/>
<polygon fill="#e0e0e0" points="965.9,2245.5 978.4,2241.4 988.7,2262.1 986.6,2272.5 974.2,2268.3"/>
<polygon fill="#e0e0e0" points="908.0,2251.8 922.5,2247.6 918.3,2262.1 908.0,2264.2"/>
<polygon fill="#0086ff" points="856.2,2200.0 891.4,2200.0 887.3,2220.7 901.8,2251.8 881.1,2231.1"/>
<polygon fill="#0086ff" points="1015.6,2262.1 1057.0,2272.5 1077.7,2293.2 1057.0,2303.5 1026.0,2293.2"/>
<polygon fill="#0086ff" points="1026.0,2231.1 1046.7,2231.1 1057.0,2251.8 1036.3,2251.8"/>
<polygon fill="#69ff69" points="874.8,2200.0 918.3,2200.0 912.1,2220.7 901.8,2251.8 891.4,2251.8 881.1,2220.7"/>
<polygon fill="#69ff69" points="920.4,2212.4 957.7,2210.4 965.9,2241.4 953.5,2262.1 937.0,2266.3 922.5,2241.4"/>
<polygon fill="#69ff69" points="949.4,2272.5 965.9,2266.3 984.6,2282.8 994.9,2303.5 1015.6,2313.9 1028.1,2344.9 965.9,2344.9 953.5,2313.9 947.3,2293.2"/>
<polygon fill="#69ff69" points="990.8,2216.6 1015.6,2220.7 1036.3,2241.4 1046.7,2262.1 1052.9,2251.8 1057.0,2262.1 1040.5,2278.7 1036.3,2293.2 1015.6,2299.4 999.1,2287.0 994.9,2262.1"/>
<polygon fill="#69ff69" points="1052.9,2249.7 1077.7,2247.6 1098.4,2255.9 1119.2,2262.1 1135.7,2282.8 1150.2,2303.5 1139.9,2315.9 1119.2,2324.2 1098.4,2344.9 1077.7,2344.9 1067.4,2324.2 1057.0,2293.2 1061.2,2272.5"/>
<polygon fill="#69ff69" points="1077.7,2229.0 1108.8,2237.3 1119.2,2251.8 1098.4,2253.8"/>
<polygon fill="#69ff69" points="1032.2,2324.2 1046.7,2320.1 1057.0,2344.9 1036.3,2344.9"/>
<polygon fill="#00d700" points="928.7,2216.6 945.2,2216.6 957.7,2241.4 949.4,2258.0 937.0,2260.0 932.8,2241.4"/>
<polygon fill="#00d700" points="999.1,2231.1 1015.6,2241.4 1026.0,2272.5 1011.5,2287.0 1001.1,2272.5"/>
<polygon fill="#00d700" points="1063.3,2255.9 1077.7,2262.1 1098.4,2293.2 1108.8,2313.9 1098.4,2320.1 1077.7,2303.5 1067.4,2282.8"/>
<polygon fill="#00d700" points="963.9,2278.7 978.4,2282.8 984.6,2299.4 970.1,2297.3"/>
<polygon fill="#00d700" points="994.9,2313.9 1015.6,2324.2 1019.8,2344.9 990.8,2344.9"/>
<polygon fill="#00a000" points="1003.2,2251.8 1013.6,2258.0 1015.6,2278.7 1007.3,2278.7"/>
<polygon fill="#00a000" points="1067.4,2262.1 1073.6,2266.3 1073.6,2272.5 1067.4,2270.4"/>
<polygon fill="#00a000" points="1115.0,2303.5 1123.3,2307.7 1119.2,2315.9"/>
<polygon fill="#ffdc55" points="932.8,2218.6 943.2,2218.6 955.6,2237.3 949.4,2239.3 937.0,2226.9"/>
<polygon fill="#ffdc55" points="941.1,2249.7 947.3,2249.7 947.3,2255.9 942.1,2255.9"/>
<polygon fill="#ffcd37" points="1081.9,2287.0 1094.3,2289.0 1096.4,2303.5 1088.1,2305.6 1081.9,2299.4"/>
<polygon fill="#ffaa0a" points="1086.0,2295.2 1093.3,2296.3 1092.2,2303.5 1088.1,2303.5"/>
<polygon fill="#ffdc55" points="1110.9,2305.6 1119.2,2309.7 1117.1,2311.8"/>
<polygon fill="#b3dbef" points="652.7,581.2 665.6,560.5 691.5,544.9 712.2,526.8 732.9,521.6 758.8,513.9 784.7,485.4 810.6,472.5 836.4,462.1 862.3,449.2 883.0,441.4 914.1,436.2 914.1,451.8 888.2,467.3 862.3,485.4 836.4,503.5 823.5,519.0 828.7,539.8 823.5,565.6 810.6,581.2 797.6,594.1 771.7,601.9 745.9,601.9 727.7,612.2 717.4,620.0 696.7,622.6 681.2,630.3 676.0,614.8 670.8,599.3 657.9,594.1"/>
<polygon fill="#3ebeff" points="652.7,576.0 668.2,565.6 686.3,560.5 704.5,570.8 707.0,581.2 696.7,596.7 681.2,601.9 665.6,591.5 655.3,586.3"/>
<polygon fill="#07a8ff" points="655.3,570.8 676.0,568.2 681.2,581.2 660.5,583.7"/>
<polygon fill="#3ebeff" points="691.5,539.8 714.8,526.8 717.4,539.8 701.9,550.1"/>
<polygon fill="#3ebeff" points="709.6,581.2 732.9,576.0 748.4,565.6 758.8,555.3 771.7,544.9 784.7,534.6 797.6,526.8 815.7,524.2 818.3,539.8 810.6,555.3 823.5,563.0 810.6,570.8 792.4,581.2 774.3,586.3 753.6,581.2 732.9,588.9 712.2,591.5"/>
<polygon fill="#3ebeff" points="766.6,534.6 779.5,524.2 784.7,534.6 774.3,544.9 764.0,550.1"/>
<polygon fill="#3ebeff" points="831.3,472.5 857.1,451.8 883.0,441.4 903.7,438.8 914.1,451.8 893.4,459.5 888.2,472.5 867.5,477.6 849.4,485.4 823.5,493.2 810.6,500.9 800.2,508.7 784.7,511.3 779.5,503.5 797.6,493.2"/>
<polygon fill="#3ebeff" points="810.6,586.3 818.3,583.7 815.7,591.5 800.2,599.3"/>
<polygon fill="#3ebeff" points="714.8,612.2 727.7,604.5 732.9,596.7 722.6,612.2 717.4,617.4"/>
<polygon fill="#3ebeff" points="764.0,591.5 774.3,591.5 771.7,599.3 766.6,601.9"/>
<polygon fill="#87d9ff" points="795.0,485.4 823.5,477.6 810.6,493.2 792.4,498.3"/>
<polygon fill="#07a8ff" points="867.5,469.9 883.0,472.5 877.8,477.6 867.5,477.6"/>
<polygon fill="#07a8ff" points="883.0,477.6 896.0,475.1 901.1,480.2 885.6,481.5"/>
<polygon fill="#3ebeff" points="927.0,444.0 952.9,444.0 952.9,449.2 927.0,449.2"/>
<polygon fill="#87d9ff" points="927.0,462.1 940.0,459.5 942.5,467.3"/>
<polygon fill="#87d9ff" points="854.6,493.2 870.1,493.2 867.5,498.3 854.6,498.3"/>
<polygon fill="#3ebeff" points="753.6,511.3 758.8,511.3 756.2,515.2"/>
<polygon fill="#3ebeff" points="585.4,671.7 598.3,651.0 624.2,658.8 632.0,664.0 629.4,684.7 619.0,687.3 603.5,682.1 590.6,679.5"/>
<polygon fill="#07a8ff" points="598.3,664.0 619.0,666.6 616.5,676.9 603.5,679.5"/>
<polygon fill="#b3dbef" points="559.5,718.3 572.5,697.6 590.6,684.7 598.3,702.8 613.9,718.3 621.6,736.4 644.9,741.6 665.6,754.6 660.5,759.7 629.4,752.0 608.7,754.6 585.4,762.3 580.2,788.2 585.4,814.1 598.3,819.3 608.7,827.0 611.3,840.0 598.3,845.1 590.6,855.5 598.3,878.8 603.5,900.0 515.5,900.0 520.7,852.9 528.5,801.1 538.8,762.3 549.2,736.4"/>
<polygon fill="#3ebeff" points="559.5,720.9 577.6,715.7 588.0,726.1 593.2,736.4 613.9,741.6 639.8,746.8 665.6,754.6 655.3,757.1 619.0,749.4 593.2,749.4 585.4,762.3 577.6,777.8 575.1,788.2 580.2,803.7 590.6,814.1 595.8,827.0 590.6,840.0 577.6,865.8 564.7,865.8 551.8,852.9 546.6,840.0 538.8,827.0 531.1,814.1 536.2,788.2 544.0,762.3"/>
<polygon fill="#07a8ff" points="556.9,814.1 572.5,819.3 588.0,824.4 585.4,840.0 572.5,842.5 562.1,834.8 551.8,827.0"/>
<polygon fill="#87d9ff" points="533.6,840.0 546.6,845.1 551.8,865.8 559.5,891.7 538.8,900.0 525.9,900.0 528.5,865.8"/>
<polygon fill="#87d9ff" points="644.9,648.4 652.7,648.4 647.5,658.8"/>
<polygon fill="#3ebeff" points="681.2,788.2 684.3,788.2 682.5,792.1"/>
<polygon fill="#b3dbef" points="538.8,880.0 624.2,880.0 629.4,905.9 668.2,918.8 686.3,931.8 720.0,929.2 720.0,957.6 694.1,965.4 681.2,988.7 681.2,1022.3 668.2,1035.3 670.8,1048.2 665.6,1081.9 655.3,1092.2 668.2,1112.9 681.2,1107.7 707.0,1125.9 717.4,1138.8 712.2,1151.7 694.1,1146.6 668.2,1128.4 642.3,1125.9 616.5,1100.0 603.5,1081.9 590.6,1061.2 564.7,1048.2 546.6,1048.2 536.2,1009.4 531.1,970.6 528.5,931.8 525.9,892.9"/>
<polygon fill="#e0e0e0" points="629.4,887.8 665.6,890.4 681.2,918.8 665.6,931.8 644.9,924.0 634.6,905.9"/>
<polygon fill="#e0e0e0" points="644.9,965.4 665.6,965.4 676.0,983.5 668.2,1004.2 650.1,1009.4 639.8,988.7"/>
<polygon fill="#e0e0e0" points="575.1,887.8 608.7,887.8 616.5,931.8 603.5,936.9 577.6,931.8"/>
<polygon fill="#e0e0e0" points="603.5,1066.3 619.0,1066.3 624.2,1087.0 611.3,1092.2"/>
<polygon fill="#3ebeff" points="541.4,991.3 556.9,988.7 577.6,993.9 598.3,978.3 608.7,957.6 624.2,955.1 634.6,970.6 634.6,988.7 650.1,1022.3 660.5,1035.3 655.3,1040.5 639.8,1035.3 619.0,1045.6 608.7,1050.8 598.3,1045.6 577.6,1040.5 562.1,1030.1 546.6,1014.6"/>
<polygon fill="#3ebeff" points="608.7,939.5 626.8,939.5 629.4,949.9 611.3,952.5"/>
<polygon fill="#3ebeff" points="644.9,962.8 655.3,968.0 665.6,988.7 657.9,993.9 647.5,983.5"/>
<polygon fill="#3ebeff" points="655.3,991.3 676.0,988.7 681.2,1009.4 676.0,1022.3 660.5,1014.6"/>
<polygon fill="#3ebeff" points="624.2,1061.2 650.1,1071.5 663.0,1081.9 655.3,1087.0 629.4,1081.9"/>
<polygon fill="#3ebeff" points="650.1,1102.6 676.0,1107.7 696.7,1118.1 707.0,1128.4 712.2,1149.2 696.7,1146.6 681.2,1138.8 665.6,1128.4 655.3,1118.1 644.9,1112.9"/>
<polygon fill="#3ebeff" points="694.1,931.8 707.0,931.8 714.8,939.5 696.7,942.1"/>
<polygon fill="#87d9ff" points="554.3,926.6 572.5,926.6 572.5,947.3 554.3,947.3"/>
<polygon fill="#07a8ff" points="567.3,1001.6 585.4,1001.6 590.6,1014.6 577.6,1032.7 569.9,1024.9"/>
<polygon fill="#07a8ff" points="544.0,993.9 551.8,993.9 551.8,1004.2 544.0,1004.2"/>
<polygon fill="#07a8ff" points="670.8,1110.3 686.3,1112.9 696.7,1125.9 701.9,1144.0 691.5,1138.8 676.0,1128.4 668.2,1120.7"/>
<polygon fill="#e0e0e0" points="678.6,1123.3 686.3,1125.9 688.9,1133.6 681.2,1136.2"/>
<polygon fill="#3ebeff" points="619.0,1151.7 626.8,1149.2 652.7,1175.0 647.5,1177.6"/>
<polygon fill="#3ebeff" points="634.6,1154.3 639.8,1154.3 650.1,1169.9 644.9,1172.4"/>
<polygon fill="#87d9ff" points="665.6,1177.6 696.7,1182.8 725.2,1175.0 732.9,1169.9 756.2,1172.4 774.3,1190.6 795.0,1200.9 779.5,1208.7 784.7,1216.4 805.4,1234.6 849.4,1255.3 857.1,1263.0 836.4,1263.0 797.6,1247.5 800.2,1263.0 789.9,1273.4 784.7,1283.7 758.8,1288.9 738.1,1283.7 727.7,1268.2 712.2,1250.1 701.9,1232.0 691.5,1216.4 686.3,1211.3 696.7,1206.1 681.2,1193.1"/>
<polygon fill="#3ebeff" points="681.2,1182.8 707.0,1185.4 732.9,1175.0 756.2,1175.0 771.7,1190.6 782.1,1206.1 797.6,1232.0 795.0,1247.5 792.4,1263.0 784.7,1278.6 758.8,1286.3 738.1,1278.6 727.7,1263.0 717.4,1242.3 707.0,1226.8 701.9,1213.9 691.5,1195.7"/>
<polygon fill="#87d9ff" points="748.4,1190.6 766.6,1193.1 771.7,1203.5 756.2,1203.5 748.4,1198.3"/>
<polygon fill="#87d9ff" points="696.7,1211.3 707.0,1211.3 714.8,1226.8 704.5,1229.4"/>
<polygon fill="#07a8ff" points="696.7,1185.4 720.0,1193.1 745.9,1206.1 766.6,1216.4 784.7,1224.2 797.6,1242.3 784.7,1252.7 771.7,1268.2 758.8,1276.0 743.3,1268.2 732.9,1255.3 722.6,1237.1 714.8,1216.4 707.0,1200.9"/>
<polygon fill="#0070ff" points="707.0,1190.6 727.7,1198.3 745.9,1211.3 764.0,1224.2 758.8,1232.0 745.9,1229.4 732.9,1219.0 720.0,1208.7"/>
<polygon fill="#69ff69" points="701.9,1198.3 720.0,1198.3 727.7,1200.9 738.1,1208.7 745.9,1216.4 743.3,1221.6 732.9,1221.6 720.0,1213.9 707.0,1206.1"/>
<polygon fill="#69ff69" points="732.9,1208.7 743.3,1208.7 748.4,1216.4 745.9,1224.2 735.5,1221.6"/>
<polygon fill="#69ff69" points="751.0,1219.0 766.6,1219.0 769.2,1226.8 758.8,1229.4 751.0,1226.8"/>
<polygon fill="#69ff69" points="758.8,1260.4 769.2,1268.2 766.6,1270.8 758.8,1265.6"/>
<polygon fill="#00d700" points="707.0,1198.3 720.0,1203.5 727.7,1211.3 722.6,1213.9 712.2,1206.1"/>
<polygon fill="#3ebeff" points="800.2,1237.1 823.5,1242.3 849.4,1257.8 857.1,1263.0 849.4,1263.0 823.5,1252.7"/>
<polygon fill="#87d9ff" points="867.5,1263.0 903.7,1268.2 906.3,1283.7 875.3,1283.7 867.5,1273.4"/>
<polygon fill="#87d9ff" points="867.5,1304.4 888.2,1309.6 903.7,1314.8 906.3,1335.5 888.2,1332.9 877.8,1320.0"/>
<polygon fill="#00d700" points="572.5,1112.9 577.6,1112.9 588.0,1128.4 588.0,1132.3 582.8,1128.4 575.1,1118.1"/>
<polygon fill="#07a8ff" points="937.4,957.6 945.1,957.6 947.7,965.4 940.0,968.0"/>
<polygon fill="#3ebeff" points="740.7,1296.7 745.9,1299.3 747.2,1304.4"/>
<polygon fill="#87d9ff" points="1637.1,1527.1 1635.6,1534.8 1631.2,1541.2 1624.8,1545.6 1617.1,1547.1 1609.4,1545.6 1603.0,1541.2 1598.6,1534.8 1597.1,1527.1 1598.6,1519.4 1603.0,1513.0 1609.4,1508.6 1617.1,1507.1 1624.8,1508.6 1631.2,1513.0 1635.6,1519.4"/>
<polygon fill="#3ebeff" points="1630.6,1527.1 1629.6,1532.3 1626.6,1536.6 1622.3,1539.6 1617.1,1540.6 1611.9,1539.6 1607.6,1536.6 1604.6,1532.3 1603.6,1527.1 1604.6,1521.9 1607.6,1517.6 1611.9,1514.6 1617.1,1513.6 1622.3,1514.6 1626.6,1517.6 1629.6,1521.9"/>
<polygon fill="#07a8ff" points="1626.1,1527.1 1625.4,1530.5 1623.5,1533.5 1620.5,1535.4 1617.1,1536.1 1613.7,1535.4 1610.7,1533.5 1608.8,1530.5 1608.1,1527.1 1608.8,1523.7 1610.7,1520.7 1613.7,1518.8 1617.1,1518.1 1620.5,1518.8 1623.5,1520.7 1625.4,1523.7"/>
<polygon fill="#0086ff" points="1622.1,1527.1 1621.7,1529.0 1620.6,1530.6 1619.0,1531.7 1617.1,1532.1 1615.2,1531.7 1613.6,1530.6 1612.5,1529.0 1612.1,1527.1 1612.5,1525.2 1613.6,1523.6 1615.2,1522.5 1617.1,1522.1 1619.0,1522.5 1620.6,1523.6 1621.7,1525.2"/>
<polygon fill="#69ff69" points="1618.3,1527.1 1617.7,1528.1 1616.5,1528.1 1615.9,1527.1 1616.5,1526.1 1617.7,1526.1"/>
<polygon fill="#87d9ff" points="1680.0,1946.0 1684.0,1946.0 1684.0,1955.0 1680.0,1955.0"/>
<polygon fill="#87d9ff" points="1700.0,1978.0 1735.0,1979.0 1737.0,1990.0 1700.0,1990.0"/>
<polygon fill="#3ebeff" points="1702.0,1980.0 1718.0,1981.0 1716.0,1988.0 1703.0,1988.0"/>
<polygon fill="#87d9ff" points="1733.0,2040.0 1742.0,2038.0 1746.0,2055.0 1742.0,2068.0 1736.0,2060.0"/>
<polygon fill="#87d9ff" points="1350.0,2080.0 1370.0,2080.0 1368.0,2092.0 1351.0,2092.0"/></g>
</g>
<g fill="none" stroke="#000" stroke-width="3.3" stroke-linejoin="round" stroke-linecap="round"><polyline points="1043.2,362.6 1027.6,370.4 1026.3,380.7 1009.5,389.8 988.8,404.0 986.2,398.8 983.6,404.0 975.9,414.3 962.9,429.9 959.1,437.6 964.2,448.0 965.5,460.9 957.8,468.7 955.2,473.9 968.1,481.6 972.0,494.6 975.9,489.4 996.6,494.6 999.2,502.3 995.3,515.3 1009.5,523.0 1006.9,538.6 1009.5,545.0 1027.6,532.1 1032.8,523.0 1027.6,517.9 1030.2,510.1 1030.2,502.3 1032.8,512.7 1048.3,520.5 1056.1,530.8 1063.9,528.2 1071.6,536.0 1076.8,533.4 1084.6,541.2 1089.8,541.2 1094.9,551.5 1105.3,546.3 1113.0,538.6 1113.0,551.5 1120.8,560.6 1141.5,548.9 1149.3,546.3 1157.0,533.4"/>
<polyline points="1149.3,548.9 1159.6,548.9 1175.2,538.6 1190.7,536.0 1208.8,520.5 1219.2,512.7 1234.7,499.8 1242.4,490.7 1252.8,492.0 1263.1,499.8 1268.3,492.0 1281.3,489.4 1294.2,480.3 1304.6,481.6 1304.6,471.3 1299.4,463.5 1299.4,451.9 1307.1,457.0 1320.1,449.3 1330.4,446.7 1338.2,440.2 1338.2,432.5 1353.7,424.7 1364.1,413.1 1377.0,411.8 1379.6,404.0 1387.4,393.6 1395.1,388.5 1395.1,375.5 1400.3,365.2 1401.6,360.0"/>
<polyline points="1149.3,548.9 1141.5,556.7 1131.2,572.2 1128.6,580.0 1136.3,580.0 1133.7,592.9 1141.5,592.9 1151.9,592.9 1157.0,582.6 1151.9,592.9 1141.5,594.2 1140.2,608.4 1148.0,608.4 1141.5,613.6 1136.3,626.6 1131.2,631.7 1126.0,639.5 1120.8,644.7 1118.2,660.2 1126.0,660.2 1115.6,662.8 1107.9,678.3 1110.5,680.9 1102.7,686.1 1100.1,696.4 1094.9,706.8 1100.1,706.8 1093.6,712.0 1092.3,719.7 1100.1,727.5 1105.3,732.7 1107.9,737.8 1118.2,743.0 1131.2,740.4 1144.1,735.3 1146.7,732.7 1154.5,737.8 1164.8,740.4 1172.6,748.2 1177.7,758.6 1180.3,761.1"/>
<polyline points="1118.2,745.6 1105.3,749.5 1092.3,750.8 1087.2,753.4 1092.3,768.9 1084.6,774.1 1071.6,771.5 1063.9,768.9 1069.0,779.3 1071.6,794.8 1063.9,800.0 1058.7,805.1 1053.5,812.9 1045.8,823.3 1043.2,825.8 1047.0,833.6 1048.3,844.0 1050.9,851.7 1063.9,847.8 1050.9,853.0 1043.2,846.5 1035.4,851.7 1027.6,862.1"/>
<polyline points="1401.6,360.0 1413.3,375.5 1431.4,388.5 1428.8,409.2 1439.1,414.3 1441.7,429.9 1431.4,432.5 1426.2,445.4 1419.7,450.6 1423.6,463.5 1431.4,476.5 1431.4,486.8 1415.8,489.4 1408.1,484.2 1390.0,484.2 1374.4,486.8 1371.8,502.3 1366.7,512.7 1371.8,517.9 1361.5,525.6 1343.4,525.6 1340.8,528.2 1348.6,533.4 1364.1,536.0 1361.5,546.3 1356.3,554.1 1358.9,564.5 1369.3,572.2 1366.7,585.2 1369.3,590.3 1361.5,603.3 1364.1,611.0 1377.0,608.4 1387.4,611.0 1390.0,616.2 1400.3,613.6 1402.9,629.2 1415.8,631.7 1426.2,634.3 1423.6,647.3 1415.8,649.9 1413.3,657.6 1410.7,665.4 1415.8,675.7 1418.4,686.1 1413.3,696.4 1413.3,709.4 1418.4,712.0 1410.7,717.1 1405.5,722.3 1400.3,730.1 1390.0,732.7 1384.8,743.0 1374.4,748.2 1366.7,753.4 1358.9,758.6 1364.1,763.7 1366.7,774.1 1364.1,787.0 1369.3,800.0 1374.4,812.9 1382.2,823.3 1390.0,828.4 1397.7,831.0 1405.5,833.6 1415.8,836.2 1431.4,833.6 1441.7,844.0 1452.1,853.0"/>
<polyline points="1410.7,665.4 1395.1,662.8 1384.8,655.0 1369.3,647.3 1353.7,644.7 1346.0,642.1 1340.8,639.5 1338.2,649.9 1330.4,655.0 1327.8,665.4 1330.4,670.6 1325.3,680.9 1325.3,693.9 1317.5,696.4 1307.1,691.3 1291.6,683.5 1281.3,683.5 1273.5,678.3 1265.7,683.5 1260.6,683.5 1263.1,696.4 1270.9,704.2 1276.1,709.4 1278.7,722.3 1278.7,730.1 1270.9,730.1 1263.1,735.3 1260.6,743.0 1250.2,743.0 1239.9,737.8 1234.7,732.7 1226.9,727.5 1216.6,719.7 1203.6,714.6 1198.4,712.0 1190.7,717.1 1177.7,717.1 1170.0,722.3 1170.0,732.7 1175.2,740.4 1175.2,753.4 1177.7,758.6"/>
<polyline points="1452.1,671.9 1441.7,680.9 1436.5,686.1 1439.1,696.4 1440.4,709.4 1431.4,709.4 1423.6,709.4 1418.4,712.0"/>
<polyline points="1405.5,833.6 1397.7,838.8 1390.0,846.5 1377.0,854.3 1364.1,851.7 1351.1,854.3 1335.6,862.1"/>
<polyline points="1726.9,362.6 1719.2,365.2 1708.8,370.4 1698.4,372.9 1693.3,378.1 1685.5,379.4 1684.2,385.9 1686.8,391.1 1693.3,393.6 1693.3,404.0 1690.7,406.6 1682.9,406.6 1675.2,411.8 1670.0,416.9 1659.6,420.8 1657.0,424.7 1644.1,428.6 1638.9,437.6 1638.9,442.8 1633.7,442.8 1631.2,437.6 1626.0,433.8 1620.8,435.1 1622.1,442.8 1613.0,444.1 1610.5,445.4 1609.2,448.0 1607.9,444.1 1600.1,442.8 1591.0,441.5 1584.6,438.9 1580.7,438.9 1579.4,445.4 1571.6,450.6 1566.5,454.5 1562.6,455.8 1561.3,458.3 1561.3,466.1 1562.6,473.9 1558.7,476.5 1548.3,477.8 1545.8,473.9 1547.0,484.2 1540.6,484.2 1532.8,485.5 1527.6,492.0 1525.1,495.9 1522.5,492.0 1516.0,492.0 1512.1,494.6 1512.1,498.5 1505.6,501.0 1505.6,507.5 1501.8,507.5 1499.2,510.1 1495.3,523.0 1497.9,532.1 1504.3,533.4 1508.2,536.0 1509.5,543.7 1505.6,548.9 1500.5,559.3 1500.5,569.6 1504.3,582.6 1506.9,592.9 1509.5,603.3 1510.8,609.7 1501.8,608.4 1504.3,598.1 1505.6,590.3 1501.8,586.4 1495.3,587.7 1491.4,590.3 1484.9,589.0 1478.5,591.6 1479.8,596.8 1483.6,595.5 1488.8,598.1 1491.4,602.0 1483.6,604.6 1481.1,611.0 1477.2,616.2 1475.9,626.6 1483.6,634.3 1492.7,640.8 1495.3,631.7 1497.9,639.5 1505.6,644.7 1512.1,642.1 1518.6,639.5 1522.5,644.7 1527.6,649.9 1532.8,649.9 1536.7,647.3 1543.2,644.7 1548.3,655.0 1556.1,668.0 1563.9,678.3 1569.0,683.5 1579.4,691.3 1584.6,699.0 1592.3,705.5 1600.1,706.8 1607.9,712.0 1613.0,717.1 1620.8,724.9 1626.0,730.1 1623.4,734.0 1628.6,732.7 1635.0,732.7 1636.3,727.5 1640.2,734.0 1646.7,737.8 1653.2,743.0 1654.5,756.0 1659.6,763.7 1663.5,771.5 1664.8,779.3 1670.0,787.0 1673.9,794.8 1672.6,797.4 1677.7,805.1 1681.6,812.9 1685.5,820.7 1689.4,828.4 1692.0,836.2 1695.9,844.0 1699.7,851.7 1701.0,862.1"/>
<polyline points="1452.1,671.9 1455.2,668.0 1460.4,666.7 1465.5,673.1 1469.4,683.5 1465.5,693.9 1464.2,704.2 1464.2,712.0 1474.6,714.6 1473.3,730.1 1473.3,743.0 1483.6,745.6 1488.8,743.0 1491.4,737.8 1486.2,730.1 1488.8,722.3 1495.3,719.7 1500.5,717.1 1506.9,714.6 1509.5,706.8 1516.0,701.6 1527.6,704.2 1535.4,701.6 1534.1,691.3 1530.2,683.5 1522.5,675.7 1521.2,670.6 1527.6,666.7 1522.5,665.4 1521.2,657.6 1519.9,649.9 1512.1,642.1"/>
<polyline points="1042.2,860.4 1050.0,870.7 1060.4,881.1 1068.1,884.9 1078.5,882.3 1091.4,879.8 1099.2,878.5 1114.7,882.3 1109.5,891.4 1110.8,896.6 1104.3,891.4 1101.8,888.8 1088.8,890.1 1087.5,899.2 1091.4,904.3 1097.9,903.1 1094.0,908.2 1083.6,906.9 1081.1,903.1 1070.7,905.6 1065.5,909.5 1064.2,917.3 1070.7,919.9 1078.5,923.8 1091.4,928.9 1101.8,925.1 1109.5,922.5 1108.2,918.6 1112.1,913.4 1118.6,919.9 1114.7,927.6 1112.1,935.4 1106.9,940.6 1117.3,943.2 1122.5,938.0 1127.6,948.3 1132.8,945.8 1140.6,948.3 1143.2,953.5 1127.6,956.1 1122.5,963.9 1127.6,971.6 1132.8,966.5 1143.2,961.3 1150.9,960.0 1153.5,953.5 1156.1,948.3 1158.7,935.4 1161.3,950.9 1169.0,950.9 1174.2,952.2 1176.8,945.8 1176.8,938.0 1179.4,927.6 1179.4,919.9 1187.2,923.8 1194.9,919.9 1197.5,912.1 1192.3,906.9 1185.9,909.5 1184.6,904.3 1176.8,901.8 1169.0,896.6 1166.5,892.7 1174.2,891.4 1179.4,894.0 1189.8,897.9 1194.9,896.6 1205.3,899.2 1210.5,904.3 1210.5,912.1 1218.2,919.9 1220.8,925.1 1226.0,935.4 1231.2,936.7 1236.3,935.4 1236.3,927.6 1241.5,927.6 1246.7,932.8 1250.6,927.6 1253.2,940.6 1259.6,948.3 1259.6,954.8 1264.8,957.4 1270.0,956.1 1270.0,948.3 1267.4,939.3 1277.7,935.4 1277.7,927.6 1280.3,932.8 1288.1,935.4 1298.4,927.6 1308.8,925.1 1314.0,923.8"/>
<polygon points="1127.6,922.5 1138.0,919.9 1148.3,925.1 1158.7,925.1 1153.5,935.4 1145.8,940.6 1138.0,935.4 1130.2,932.8"/>
<polyline points="1314.0,923.8 1311.4,917.3 1308.8,909.5 1308.8,896.6 1308.8,886.2 1314.0,878.5 1319.2,878.5 1321.7,888.8 1326.9,883.6 1334.7,873.3 1337.3,862.9 1334.7,860.4 1342.4,860.4 1350.2,852.6 1360.6,850.0 1373.5,855.2 1386.4,851.3 1394.2,847.4"/>
<polyline points="1314.0,925.1 1321.7,932.8 1334.7,940.6 1345.0,948.3 1350.2,945.8 1360.6,947.0 1352.8,949.6 1347.6,953.5 1342.4,954.8 1334.7,949.6 1332.1,948.3"/>
<polygon points="1306.2,940.6 1316.6,938.0 1324.3,943.2 1332.1,948.3 1334.7,958.7 1334.7,969.0 1337.3,982.0 1334.7,987.2 1321.7,991.0 1311.4,987.2 1307.5,979.4 1311.4,974.2 1306.2,969.0 1304.9,958.7 1304.9,948.3"/>
<polygon points="1277.7,948.3 1282.9,940.6 1298.4,941.9 1301.0,948.3 1293.3,953.5 1282.9,953.5"/>
<polygon points="1290.7,956.1 1298.4,953.5 1303.6,963.9 1308.8,971.6 1314.0,976.8 1306.2,976.8 1298.4,971.6 1290.7,963.9"/>
<polyline points="1332.1,948.3 1334.7,966.5 1339.9,982.0 1347.6,997.5 1350.2,1010.5 1347.6,1020.8 1352.8,1026.0 1360.6,1033.7 1370.9,1033.7 1368.3,1044.1 1376.1,1049.3 1378.7,1054.5 1386.4,1054.5 1391.6,1059.6 1386.4,1064.8 1381.3,1070.0 1370.9,1064.8 1363.1,1067.4 1360.6,1075.2 1360.6,1085.5 1363.1,1095.9 1370.9,1088.1 1378.7,1085.5 1386.4,1088.1 1381.3,1090.7 1378.7,1098.4 1376.1,1108.8 1376.1,1114.0 1381.3,1119.2 1386.4,1124.3 1394.2,1132.1 1402.0,1137.3 1407.1,1137.3"/>
<polyline points="1407.1,1137.3 1420.1,1136.0 1438.2,1129.5 1446.0,1129.5 1458.9,1134.7 1471.8,1139.9 1490.0,1132.1 1502.9,1119.2 1515.8,1111.4 1528.8,1098.4 1541.7,1082.9 1552.1,1070.0"/>
<polyline points="1407.1,1137.3 1396.8,1139.9 1389.0,1147.6 1383.9,1134.7 1378.7,1124.3 1360.6,1121.7 1347.6,1119.2 1334.7,1108.8 1332.1,1111.4 1321.7,1121.7 1308.8,1121.7 1303.6,1124.3 1301.0,1121.7 1298.4,1126.9 1293.3,1129.5 1293.3,1139.9 1288.1,1142.4 1277.7,1145.0 1272.6,1150.2 1270.0,1160.6 1272.6,1170.9 1264.8,1173.5 1262.2,1181.3 1264.8,1189.0 1267.4,1196.8 1275.2,1194.2 1282.9,1186.4 1290.7,1183.9 1288.1,1189.0 1293.3,1199.4 1295.9,1212.3 1298.4,1209.7 1308.8,1207.1 1316.6,1207.1 1324.3,1212.3 1329.5,1230.4 1332.1,1240.8 1334.7,1253.7 1339.9,1264.1 1347.6,1266.7 1334.7,1269.3 1337.3,1277.0 1342.4,1290.0 1339.9,1305.5 1334.7,1313.3 1345.0,1315.8 1355.4,1323.6 1360.6,1334.0 1365.7,1352.1"/>
<polygon points="1298.4,1209.7 1301.0,1217.5 1303.6,1238.2 1306.2,1251.1 1319.2,1256.3 1319.2,1246.0 1314.0,1233.0 1308.8,1212.3"/>
<polygon points="1293.3,1126.9 1303.6,1124.3 1316.6,1134.7 1316.6,1145.0 1306.2,1150.2 1303.6,1160.6 1295.9,1163.1 1293.3,1150.2 1295.9,1139.9"/>
<polyline points="1446.0,847.4 1453.7,865.5 1466.7,857.8 1469.3,870.7 1477.0,875.9 1495.1,873.3 1497.7,891.4 1510.7,896.6 1515.8,904.3 1526.2,912.1 1526.2,922.5 1513.3,932.8 1510.7,943.2 1513.3,953.5 1508.1,958.7 1515.8,963.9 1513.3,976.8 1523.6,976.8 1541.7,987.2 1552.1,988.5"/>
<polygon points="1378.7,997.5 1386.4,987.2 1399.4,992.3 1404.6,979.4 1414.9,974.2 1422.7,966.5 1433.0,967.8 1438.2,979.4 1438.2,992.3 1451.1,997.5 1446.0,1005.3 1443.4,1015.6 1430.4,1026.0 1422.7,1018.2 1412.3,1020.8 1402.0,1026.0 1394.2,1013.0 1386.4,1015.6 1386.4,1000.1"/>
<polygon points="1306.2,1015.6 1314.0,1018.2 1319.2,1026.0 1314.0,1028.6 1306.2,1020.8"/>
<polygon points="1321.7,1010.5 1326.9,1011.7 1326.9,1016.9 1321.7,1015.6"/>
<polygon points="1259.6,1062.2 1264.8,1064.8 1272.6,1070.0 1267.4,1075.2 1257.0,1072.6"/>
<polygon points="1319.2,1059.6 1329.5,1059.6 1332.1,1064.8 1324.3,1071.3 1319.2,1067.4"/>
<polyline points="1471.8,1139.9 1474.4,1150.2 1484.8,1160.6 1492.5,1168.3 1495.1,1173.5 1484.8,1173.5 1477.0,1183.9 1474.4,1191.6 1469.3,1199.4 1474.4,1212.3 1484.8,1222.7 1490.0,1233.0 1492.5,1243.4 1505.5,1240.8 1513.3,1248.6 1521.0,1253.7 1515.8,1264.1 1513.3,1277.0 1513.3,1287.4 1523.6,1290.0 1528.8,1297.7 1531.4,1315.8 1536.5,1328.8 1541.7,1339.1 1552.1,1341.7"/>
<polyline points="1365.7,1346.9 1376.1,1341.7 1386.4,1336.5 1399.4,1331.4 1402.0,1315.8 1412.3,1310.7 1425.3,1313.3 1433.0,1315.8 1435.6,1326.2 1443.4,1328.8 1451.1,1326.2 1464.1,1323.6 1477.0,1321.0 1484.8,1318.4 1490.0,1328.8 1495.1,1336.5 1502.9,1341.7 1515.8,1339.1 1526.2,1339.1 1534.0,1336.5 1541.7,1339.1"/>
<polyline points="1699.3,847.4 1700.6,860.4 1709.6,873.3 1712.2,878.5 1721.3,886.2 1727.7,896.6 1732.9,904.3 1739.4,912.1 1740.7,917.3 1748.4,927.6 1764.0,943.2 1771.7,950.9 1779.5,958.7 1782.1,971.6 1784.7,976.8 1792.4,984.6 1792.4,991.0 1795.0,1000.1 1805.4,1010.5 1808.0,1018.2 1815.7,1026.0 1818.3,1031.2 1823.5,1041.5 1831.3,1049.3 1836.4,1057.0 1835.1,1067.4 1836.4,1075.2 1841.6,1080.3 1844.2,1088.1 1852.0,1095.9 1849.4,1103.6 1852.0,1114.0 1853.3,1129.5 1857.1,1145.0 1862.3,1155.4 1864.9,1165.7 1864.9,1176.1 1862.3,1183.9 1857.1,1186.4 1854.6,1194.2 1854.6,1204.6 1859.7,1212.3 1861.0,1220.1 1859.7,1225.3 1859.7,1238.2 1854.6,1248.6 1850.7,1258.9 1850.7,1274.4 1852.0,1284.8 1849.4,1287.4 1854.6,1295.1 1855.8,1302.9 1861.0,1310.7 1857.1,1315.8 1853.3,1318.4 1854.6,1326.2 1857.1,1331.4 1864.9,1334.0 1870.1,1328.8 1875.3,1326.2 1877.8,1318.4 1883.0,1313.3 1888.2,1318.4 1889.5,1326.2 1888.2,1334.0 1885.6,1339.1 1883.0,1352.1"/>
<polyline points="1836.4,1077.7 1826.1,1085.5 1820.9,1090.7 1815.7,1095.9 1817.0,1103.6 1810.6,1102.3 1805.4,1098.4 1795.0,1093.3 1789.9,1090.7 1787.3,1098.4 1779.5,1095.9 1769.2,1093.3 1764.0,1094.6 1761.4,1093.3 1756.2,1103.6 1751.0,1104.9 1745.9,1098.4 1740.7,1095.9 1735.5,1095.9 1731.6,1101.0 1732.9,1107.5 1727.7,1107.5 1720.0,1103.6 1712.2,1101.0 1709.6,1098.4 1701.9,1097.2 1691.5,1094.6 1686.3,1089.4 1681.2,1092.0 1673.4,1093.3 1670.8,1088.1 1668.2,1082.9 1660.5,1082.9 1652.7,1084.2 1647.5,1085.5 1644.9,1082.9 1655.3,1072.6 1655.3,1068.7 1644.9,1070.0 1642.3,1067.4 1634.6,1062.2 1629.4,1064.8 1626.8,1070.0 1621.6,1067.4 1619.0,1066.1 1616.5,1071.3 1611.3,1075.2 1603.5,1076.4 1603.5,1070.0 1598.3,1063.5 1593.2,1062.2 1585.4,1064.8 1582.8,1070.0 1585.4,1077.7 1582.8,1082.9 1577.6,1084.2 1575.1,1082.9 1567.3,1085.5 1562.1,1086.8 1556.9,1085.5 1553.1,1080.3 1551.8,1070.0"/>
<polyline points="1500.0,894.0 1511.6,897.9 1514.2,904.3 1520.7,905.6 1525.9,912.1 1525.9,922.5 1520.7,925.1 1512.9,932.8 1511.6,940.6 1512.9,948.3 1507.8,956.1 1515.5,958.7 1514.2,969.0 1512.9,976.8 1518.1,979.4 1525.9,975.5 1533.6,980.7 1541.4,985.9 1544.0,988.5 1554.3,989.8 1559.5,991.0 1567.3,996.2 1562.1,998.8 1554.3,1007.9 1559.5,1013.0 1560.8,1020.8 1558.2,1028.6 1555.6,1036.3 1554.3,1046.7 1555.6,1057.0 1551.8,1064.8 1550.5,1072.6 1545.3,1077.7 1541.4,1085.5 1533.6,1085.5 1531.1,1084.2 1532.3,1095.9 1525.9,1101.0 1520.7,1106.2 1519.4,1108.8 1512.9,1107.5 1505.2,1108.8 1500.0,1116.6"/>
<polyline points="1712.2,1101.0 1709.6,1106.2 1701.9,1106.2 1696.7,1116.6 1688.9,1119.2 1681.2,1126.9 1678.6,1132.1 1676.0,1142.4 1678.6,1150.2 1673.4,1158.0 1668.2,1156.7 1660.5,1160.6 1655.3,1155.4 1650.1,1150.2 1642.3,1145.0 1639.8,1150.2 1638.5,1158.0 1629.4,1155.4 1621.6,1152.8 1616.5,1158.0 1611.3,1158.0 1606.1,1173.5 1611.3,1181.3 1603.5,1178.7 1595.8,1176.1 1590.6,1183.9 1582.8,1186.4 1580.2,1189.0 1588.0,1194.2 1588.0,1204.6 1582.8,1196.8 1577.6,1199.4 1572.5,1204.6 1564.7,1207.1 1567.3,1212.3 1577.6,1217.5 1582.8,1222.7 1580.2,1230.4 1580.2,1240.8 1578.9,1253.7 1580.2,1261.5 1575.1,1266.7 1575.1,1277.0 1582.8,1277.0 1588.0,1282.2 1595.8,1284.8 1603.5,1282.2 1611.3,1284.8 1608.7,1295.1 1613.9,1297.7 1603.5,1295.1 1598.3,1300.3 1600.9,1308.1 1598.3,1315.8 1595.8,1326.2 1588.0,1331.4 1582.8,1336.5 1577.6,1334.0 1564.7,1339.1 1559.5,1339.1 1549.2,1336.5 1546.6,1331.4 1541.4,1336.5 1538.8,1334.0 1536.2,1341.7 1528.5,1341.7 1520.7,1336.5 1518.1,1339.1 1518.1,1346.9 1510.4,1350.0 1500.0,1346.9"/>
<polyline points="1582.8,1336.5 1585.4,1352.1"/>
<polyline points="1500.0,1243.4 1505.2,1238.2 1510.4,1243.4 1515.5,1251.1 1520.7,1253.7 1515.5,1258.9 1512.9,1269.3 1510.4,1284.8 1510.4,1290.0 1518.1,1287.4 1528.5,1290.0 1531.1,1302.9 1531.1,1313.3 1536.2,1323.6 1541.4,1331.4"/>
<polyline points="1043.0,847.0 1045.0,858.0 1040.0,863.0 1020.0,866.0 1007.0,867.0 1010.0,871.0 1031.0,874.0 1045.0,869.0 1055.0,873.0 1042.0,860.0"/>
<polyline points="1341.1,1297.9 1339.0,1306.2 1332.8,1310.4 1333.9,1316.6 1339.0,1312.4 1347.3,1315.5 1353.5,1322.8 1359.7,1325.9 1357.7,1331.1 1363.9,1339.3 1362.8,1344.5 1351.4,1349.7 1347.3,1355.9 1351.4,1360.0 1352.5,1371.4 1365.9,1370.4 1382.5,1367.3 1392.9,1366.3 1386.6,1370.4 1382.5,1374.5 1372.2,1376.6 1365.9,1379.7 1370.1,1382.8 1378.4,1387.0 1382.5,1391.1 1385.6,1395.2 1382.5,1397.3 1378.4,1391.1 1365.9,1391.1 1355.6,1391.1 1354.6,1395.2 1355.6,1401.4 1349.4,1409.7 1341.1,1413.9 1334.9,1415.9 1326.6,1426.3 1324.5,1428.4 1325.6,1436.6 1328.7,1440.8 1334.9,1440.8 1349.4,1438.7 1357.7,1436.6 1363.9,1438.7 1364.9,1444.9 1367.0,1452.2 1361.8,1442.9 1355.6,1442.9 1351.4,1444.9 1351.4,1453.2 1349.4,1449.1 1341.1,1449.1 1332.8,1451.1 1328.7,1457.3 1322.5,1467.7 1320.4,1471.8 1318.3,1478.1 1317.3,1486.3 1322.5,1492.5 1320.4,1486.3 1314.2,1488.4 1312.1,1496.7 1310.0,1505.0 1305.9,1507.0 1302.8,1509.1 1299.7,1515.3 1298.7,1521.5 1303.8,1523.6 1312.1,1523.6 1310.0,1527.7 1306.9,1534.0 1305.9,1538.1"/>
<polyline points="1362.8,1344.5 1374.2,1345.5 1377.3,1340.4 1386.6,1337.3 1392.9,1333.1 1399.1,1331.1 1400.1,1320.7 1403.2,1313.5 1411.5,1312.4 1415.6,1309.3 1428.1,1311.4 1432.2,1314.5 1434.3,1322.8 1440.5,1328.0 1446.7,1330.0 1448.8,1324.8 1457.0,1322.8 1467.4,1320.7 1473.6,1317.6 1481.9,1315.5 1486.0,1318.6 1488.1,1329.0 1492.2,1339.3 1496.4,1341.4 1500.5,1338.3 1506.7,1347.6 1515.0,1347.6 1519.2,1343.5 1519.2,1334.2 1527.4,1337.3 1533.6,1340.4 1535.7,1334.2 1538.8,1331.1 1544.0,1334.2 1548.1,1330.0 1552.3,1336.2 1560.6,1339.3 1566.8,1337.3 1577.1,1333.1 1581.3,1337.3"/>
<polyline points="1581.3,1337.3 1583.3,1343.5 1589.5,1353.8 1581.3,1362.1 1579.2,1368.3 1573.0,1372.5 1564.7,1374.5 1556.4,1378.7 1552.3,1387.0 1544.0,1393.2 1541.9,1399.4 1541.9,1407.7 1537.8,1415.9 1534.7,1424.2 1535.7,1430.4 1529.5,1440.8 1528.5,1442.9 1533.6,1447.0 1537.8,1453.2 1539.9,1459.4 1538.8,1465.6 1544.0,1468.7 1539.9,1476.0 1535.7,1482.2 1533.6,1488.4 1533.6,1494.6 1529.5,1498.8 1535.7,1509.1 1537.8,1517.4 1539.9,1525.7 1546.1,1531.9 1552.3,1536.0 1556.4,1544.3 1562.6,1552.6 1566.8,1560.9 1566.8,1569.2 1564.7,1575.4"/>
<polyline points="1581.3,1337.3 1583.3,1333.1 1589.5,1329.0 1597.8,1324.8 1599.9,1312.4 1602.0,1306.2 1599.9,1297.9"/>
<polyline points="1583.3,1362.1 1589.5,1366.3 1591.6,1372.5 1599.9,1372.5 1606.1,1378.7 1618.5,1377.6 1626.8,1380.7 1631.0,1387.0 1637.2,1391.1 1641.3,1397.3 1642.3,1407.7 1637.2,1413.9 1635.1,1418.0 1643.4,1420.1 1651.7,1418.0"/>
<polyline points="1320.4,1476.0 1324.5,1476.0 1328.7,1480.1 1332.8,1486.3 1334.9,1492.5 1339.0,1500.8 1345.2,1501.9 1351.4,1500.8 1357.7,1497.7 1363.9,1492.5 1370.1,1488.4 1374.2,1482.2 1376.3,1473.9 1378.4,1467.7 1386.6,1463.6 1392.9,1461.5 1399.1,1465.6 1405.3,1471.8 1409.4,1478.1 1413.6,1481.2 1419.8,1480.1 1421.8,1473.9 1423.9,1465.6 1430.1,1465.6 1432.2,1471.8 1432.2,1478.1 1436.3,1484.3 1438.4,1492.5 1434.3,1496.7 1440.5,1499.8 1444.6,1500.8 1450.8,1496.7 1457.0,1493.6 1461.2,1494.6 1465.3,1493.6 1471.5,1497.7 1477.7,1498.8 1484.0,1497.7 1490.2,1496.7 1496.4,1498.8 1500.5,1490.5 1504.7,1486.3 1510.9,1485.3 1519.2,1490.5 1529.5,1497.7"/>
<polyline points="1305.9,1537.9 1307.3,1531.1 1315.6,1541.4 1326.0,1547.6 1321.8,1558.0 1315.6,1562.1 1311.5,1566.3 1317.7,1574.5 1313.6,1582.8 1315.6,1593.2 1317.7,1605.6 1311.5,1609.7 1309.4,1620.1 1311.5,1626.3 1321.8,1626.3 1332.2,1628.4 1338.4,1634.6 1344.6,1642.9 1348.8,1649.1 1357.0,1652.2 1348.8,1653.2 1340.5,1651.1 1332.2,1649.1 1323.9,1642.9"/>
<polyline points="1311.5,1500.0 1305.3,1508.3 1299.1,1514.5 1298.0,1522.8 1309.4,1524.8 1307.3,1531.1"/>
<polyline points="1328.1,1653.2 1330.1,1661.5 1336.3,1665.6 1342.5,1665.6 1344.6,1673.9 1336.3,1676.0 1330.1,1680.1 1328.1,1686.3 1328.1,1694.6 1330.1,1700.8 1330.1,1713.3 1334.3,1717.4 1338.4,1723.6 1340.5,1727.7 1348.8,1723.6 1355.0,1721.5 1357.0,1709.1 1359.1,1702.9 1367.4,1698.8 1373.6,1694.6 1377.7,1690.5 1381.9,1684.3 1384.0,1669.8 1386.0,1653.2 1388.1,1665.6 1390.2,1682.2 1392.2,1690.5 1402.6,1690.5 1410.9,1690.5 1419.2,1686.3 1423.3,1669.8 1427.4,1657.3 1423.3,1653.2 1429.5,1653.2 1439.9,1644.9 1448.1,1638.7 1452.3,1636.6 1458.5,1636.6 1464.7,1628.4 1470.9,1622.2 1475.1,1624.2 1477.1,1628.4 1479.2,1642.9 1485.4,1642.9 1489.5,1628.4 1485.4,1624.2"/>
<polyline points="1491.6,1605.6 1502.0,1609.7 1495.8,1615.9 1497.8,1624.2 1497.8,1634.6 1506.1,1644.9 1514.4,1649.1 1520.6,1657.3 1518.5,1665.6 1512.3,1671.8"/>
<polyline points="1499.9,1611.8 1506.1,1607.7 1514.4,1605.6 1520.6,1595.2 1522.7,1605.6 1528.9,1611.8 1535.1,1622.2 1537.2,1630.4 1541.3,1640.8 1547.5,1649.1 1551.7,1644.9"/>
<polyline points="1535.1,1576.6 1533.0,1589.0 1539.2,1599.4 1551.7,1605.6"/>
<polyline points="1460.6,1649.1 1452.3,1659.4 1450.2,1669.8 1456.4,1673.9 1466.8,1676.0 1473.0,1678.1 1481.3,1686.3 1485.4,1692.5 1493.7,1690.5 1502.0,1682.2 1506.1,1673.9 1512.3,1671.8"/>
<polygon points="1462.6,1649.1 1466.8,1659.4 1470.9,1649.1 1468.8,1644.9"/>
<polygon points="1259.7,1690.5 1265.9,1686.3 1274.2,1682.2 1284.6,1678.1 1288.7,1671.8 1292.9,1665.6 1301.1,1667.7 1311.5,1678.1 1313.6,1686.3 1309.4,1692.5 1303.2,1700.8 1294.9,1705.0 1284.6,1709.1 1274.2,1715.3 1265.9,1711.2 1259.7,1705.0 1257.7,1698.8"/>
<polygon points="1292.9,1624.2 1299.1,1626.3 1305.3,1634.6 1309.4,1644.9 1315.6,1653.2 1321.8,1657.3 1328.1,1661.5 1323.9,1663.6 1313.6,1659.4 1307.3,1657.3 1299.1,1655.3 1294.9,1649.1 1290.8,1644.9 1288.7,1636.6"/>
<polygon points="1247.3,1555.9 1255.6,1547.6 1263.9,1539.3 1272.2,1538.3 1265.9,1543.5 1261.8,1553.8 1257.7,1560.0 1249.4,1558.0"/>
<polygon points="1272.2,1549.7 1282.5,1545.5 1290.8,1539.3 1294.9,1537.3 1301.1,1541.4 1299.1,1551.8 1292.9,1560.0 1284.6,1566.3 1278.4,1558.0 1274.2,1553.8"/>
<polygon points="1259.7,1568.3 1268.0,1564.2 1274.2,1570.4 1274.2,1578.7 1265.9,1582.8 1263.9,1572.5"/>
<polygon points="1234.9,1599.4 1243.2,1591.1 1251.4,1584.9 1257.7,1587.0 1259.7,1597.3 1268.0,1599.4 1270.1,1611.8 1274.2,1624.2 1274.2,1636.6 1268.0,1636.6 1263.9,1628.4 1257.7,1624.2 1253.5,1615.9 1249.4,1603.5 1241.1,1601.4"/>
<polygon points="1220.4,1622.2 1228.7,1618.0 1241.1,1613.9 1241.1,1624.2 1232.8,1628.4 1241.1,1634.6 1243.2,1640.8 1234.9,1647.0 1226.6,1642.9 1224.5,1634.6 1220.4,1628.4"/>
<polygon points="1294.9,1574.5 1303.2,1570.4 1311.5,1572.5 1315.6,1578.7 1315.6,1591.1 1317.7,1605.6 1309.4,1611.8 1303.2,1605.6 1294.9,1603.5 1284.6,1603.5 1292.9,1595.2 1294.9,1587.0"/>
<polygon points="1261.8,1649.1 1268.0,1644.9 1276.3,1647.0 1278.4,1653.2 1270.1,1657.3 1263.9,1655.3"/>
<polygon points="1243.2,1653.2 1249.4,1651.1 1257.7,1655.3 1262.8,1663.6 1257.7,1671.8 1249.4,1676.0 1245.2,1669.8 1243.2,1661.5"/>
<polygon points="1247.3,1657.3 1253.5,1656.3 1257.7,1663.6 1253.5,1669.8 1248.3,1667.7"/>
<polygon points="1249.4,1661.5 1253.5,1660.5 1254.6,1665.6 1250.4,1666.7"/>
<polygon points="1245.2,1725.7 1251.4,1722.6 1259.7,1725.7 1260.8,1731.9 1253.5,1731.9 1247.3,1729.8"/>
<polygon points="1338.4,1758.8 1344.6,1754.7 1346.7,1742.2 1352.9,1742.2 1359.1,1748.4 1359.1,1758.8 1352.9,1760.9 1346.7,1762.9 1340.5,1767.1"/>
<polygon points="1402.6,1748.4 1408.8,1744.3 1415.0,1748.4 1416.0,1754.7 1412.9,1758.8 1404.7,1758.8"/>
<polygon points="1361.2,1705.0 1369.5,1702.9 1375.7,1707.0 1379.8,1717.4 1386.0,1723.6 1386.0,1727.7 1375.7,1727.7 1367.4,1723.6 1363.3,1717.4"/>
<polygon points="1381.9,1702.9 1390.2,1696.7 1398.4,1696.7 1408.8,1700.8 1417.1,1702.9 1419.2,1709.1 1412.9,1713.3 1404.7,1715.3 1402.6,1721.5 1394.3,1723.6 1388.1,1717.4 1384.0,1711.2"/>
<polygon points="1421.2,1719.5 1427.4,1713.3 1435.7,1711.2 1446.1,1717.4 1439.9,1719.5 1429.5,1721.5 1423.3,1723.6"/>
<polygon points="1433.6,1690.5 1437.8,1689.4 1441.9,1694.6 1439.9,1700.8 1435.7,1698.8"/>
<polygon points="1446.1,1686.3 1456.4,1684.3 1468.8,1682.2 1473.0,1686.3 1468.8,1694.6 1458.5,1696.7 1448.1,1694.6"/>
<polygon points="1512.3,1671.8 1520.6,1669.8 1526.8,1682.2 1528.9,1694.6 1522.7,1698.8 1514.4,1694.6 1512.3,1682.2"/>
<polygon points="1297.0,1806.4 1303.2,1804.3 1309.4,1806.4 1307.3,1810.6 1303.2,1812.6 1299.1,1810.6"/>
<polygon points="1308.4,1796.5 1311.5,1796.5 1311.5,1798.1 1308.4,1798.1"/>
<polyline points="1537.3,1477.9 1533.1,1488.3 1536.2,1492.4 1531.1,1496.6 1530.0,1500.7 1537.3,1511.1 1539.3,1521.4 1541.4,1527.6 1551.8,1535.9 1555.9,1542.1 1562.1,1550.4 1566.3,1554.5 1568.3,1562.8 1566.3,1573.2 1566.3,1577.3"/>
<polyline points="1500.0,1494.5 1504.1,1486.2 1512.4,1485.2 1520.7,1490.4 1530.0,1496.6"/>
<polyline points="1618.0,1546.3 1611.8,1552.5 1603.5,1558.7 1597.3,1562.8 1593.2,1564.9 1589.0,1571.1 1582.8,1579.4 1578.7,1587.7 1574.5,1595.9 1574.5,1604.2 1578.7,1612.5 1580.7,1620.8 1584.9,1627.0 1591.1,1627.0 1593.2,1618.7 1599.4,1616.6 1601.4,1624.9 1603.5,1631.1 1613.9,1631.1 1620.1,1629.1 1622.2,1620.8 1620.1,1608.4 1622.2,1600.1 1618.0,1593.9 1613.9,1587.7 1618.0,1581.4 1624.2,1581.4 1632.5,1583.5 1634.6,1589.7 1644.9,1587.7 1647.0,1579.4 1653.2,1577.3 1659.4,1583.5 1661.5,1587.7 1665.6,1583.5 1667.7,1575.2 1671.8,1579.4 1676.0,1587.7 1682.2,1593.9 1686.3,1587.7 1686.3,1573.2 1690.5,1564.9 1696.7,1562.8 1698.8,1558.7 1694.6,1548.3 1690.5,1541.1 1696.7,1540.0 1705.0,1538.0 1707.0,1544.2 1709.1,1550.4 1715.3,1550.4 1723.6,1547.3 1719.5,1542.1 1715.3,1533.8 1719.5,1529.7 1731.9,1529.7 1736.0,1538.0 1742.2,1540.0 1752.6,1538.0 1756.7,1540.0 1767.1,1540.0 1777.4,1538.0 1783.6,1531.8 1785.7,1542.1 1787.8,1550.4 1794.0,1546.3 1798.1,1538.0 1802.3,1531.8 1808.5,1529.7 1812.6,1533.8 1814.7,1535.9 1814.7,1525.5 1818.8,1523.5 1825.1,1523.5 1831.3,1519.3 1833.3,1513.1 1835.4,1504.8 1837.5,1496.6 1839.5,1488.3 1843.7,1486.2 1852.0,1480.0"/>
<polyline points="1566.3,1577.3 1558.0,1577.3 1549.7,1581.4 1545.5,1587.7 1539.3,1587.7 1535.2,1583.5 1535.2,1575.2 1533.1,1585.6 1533.1,1593.9 1539.3,1600.1 1547.6,1606.3 1555.9,1600.1 1564.2,1598.0 1568.3,1595.9 1566.3,1608.4 1564.2,1620.8 1568.3,1629.1 1572.5,1637.3"/>
<polyline points="1574.5,1579.4 1587.0,1577.3 1595.2,1579.4 1595.2,1587.7 1591.1,1591.8 1593.2,1600.1 1599.4,1608.4 1603.5,1612.5 1609.7,1604.2 1605.6,1595.9 1609.7,1587.7 1615.9,1583.5"/>
<polyline points="1531.1,1645.6 1529.0,1633.2 1533.1,1624.9 1535.2,1620.8 1531.1,1614.6 1522.8,1608.4 1522.8,1595.9 1516.6,1593.9 1508.3,1602.2 1500.0,1604.2"/>
<polygon points="1543.5,1624.9 1549.7,1620.8 1553.8,1629.1 1560.0,1631.1 1564.2,1637.3 1560.0,1645.6 1545.5,1649.8 1537.3,1651.8 1531.1,1645.6 1541.4,1631.1"/>
<polygon points="1669.8,1598.0 1682.2,1595.9 1690.5,1591.8 1694.6,1604.2 1690.5,1614.6 1682.2,1616.6 1676.0,1608.4"/>
<polygon points="1696.7,1604.2 1700.8,1604.2 1705.0,1614.6 1698.8,1616.6"/>
<polygon points="1731.9,1554.5 1740.2,1556.6 1738.1,1562.8 1742.2,1571.1 1744.3,1583.5 1746.4,1595.9 1746.4,1606.3 1738.1,1604.2 1731.9,1612.5 1736.0,1620.8 1727.7,1624.9 1719.5,1629.1 1717.4,1620.8 1721.5,1614.6 1713.3,1610.4 1711.2,1604.2 1717.4,1595.9 1715.3,1591.8 1707.0,1595.9 1705.0,1604.2 1700.8,1595.9 1698.8,1587.7 1707.0,1581.4 1717.4,1583.5 1723.6,1583.5 1719.5,1573.2 1719.5,1569.0 1727.7,1567.0 1729.8,1558.7"/>
<polygon points="1754.7,1548.3 1762.9,1547.3 1765.0,1552.5 1762.9,1562.8 1758.8,1562.8 1756.7,1554.5"/>
<polyline points="1500.0,1629.1 1508.3,1637.3 1514.5,1645.6 1520.7,1651.8 1520.7,1658.1 1516.6,1662.2 1508.3,1660.1 1500.0,1664.3"/>
<polygon points="1504.1,1670.5 1512.4,1670.5 1520.7,1678.8 1529.0,1691.2 1526.9,1697.4 1518.6,1699.5 1512.4,1691.2 1508.3,1678.8"/>
<polygon points="1558.0,1670.5 1566.3,1666.3 1570.4,1668.4 1576.6,1678.8 1572.5,1681.9 1564.2,1678.8"/>
<polygon points="1560.0,1643.6 1570.4,1639.4 1576.6,1645.6 1576.6,1658.1 1566.3,1658.1 1560.0,1651.8"/>
<polyline points="1883.0,1352.0 1885.0,1380.0 1878.0,1410.0 1860.0,1440.0 1857.0,1470.0 1852.0,1480.0"/>
<polygon points="1273.9,1944.0 1276.0,1937.8 1286.3,1927.4 1300.8,1915.0 1313.3,1909.8 1334.0,1902.6 1362.9,1896.4 1385.7,1892.2 1396.1,1893.3 1402.3,1898.4 1412.6,1902.6 1416.8,1910.9 1416.8,1923.3 1410.6,1935.7 1400.2,1948.1 1385.7,1952.3 1369.2,1958.5 1358.8,1964.7 1327.7,1968.8 1307.0,1966.8 1298.8,1973.0 1294.6,1977.1 1286.3,1966.8 1276.0,1956.4"/>
<polygon points="1418.8,1902.6 1425.1,1904.7 1423.0,1908.8 1418.8,1907.8"/>
<polygon points="1292.5,1981.3 1294.6,1982.3 1293.6,1983.7 1292.1,1982.5"/>
<polygon points="1291.7,1992.9 1293.6,1993.7 1292.5,1995.3 1291.3,1994.1"/>
<polygon points="2089.0,980.4 2108.7,972.6 2111.7,975.0 2112.3,986.9 2104.5,994.6 2091.4,990.5"/>
<polyline points="2277.7,1028.6 2281.9,1032.1"/></g>
</g>
<rect x="333.5" y="361.5" width="1978.0" height="1981.0" fill="none" stroke="#262626" stroke-width="2.7"/>
<line x1="336.3" y1="2342.5" x2="336.3" y2="2339.0" stroke="#262626" stroke-width="2.7"/>
<line x1="336.3" y1="361.5" x2="336.3" y2="365.0" stroke="#262626" stroke-width="2.7"/>
<line x1="747.9" y1="2342.5" x2="747.9" y2="2339.0" stroke="#262626" stroke-width="2.7"/>
<line x1="747.9" y1="361.5" x2="747.9" y2="365.0" stroke="#262626" stroke-width="2.7"/>
<line x1="1159.5" y1="2342.5" x2="1159.5" y2="2339.0" stroke="#262626" stroke-width="2.7"/>
<line x1="1159.5" y1="361.5" x2="1159.5" y2="365.0" stroke="#262626" stroke-width="2.7"/>
<line x1="1571.1" y1="2342.5" x2="1571.1" y2="2339.0" stroke="#262626" stroke-width="2.7"/>
<line x1="1571.1" y1="361.5" x2="1571.1" y2="365.0" stroke="#262626" stroke-width="2.7"/>
<line x1="1982.7" y1="2342.5" x2="1982.7" y2="2339.0" stroke="#262626" stroke-width="2.7"/>
<line x1="1982.7" y1="361.5" x2="1982.7" y2="365.0" stroke="#262626" stroke-width="2.7"/>
<line x1="333.5" y1="2338.8" x2="337.0" y2="2338.8" stroke="#262626" stroke-width="2.7"/>
<line x1="2311.5" y1="2338.8" x2="2308.0" y2="2338.8" stroke="#262626" stroke-width="2.7"/>
<line x1="333.5" y1="2133.2" x2="337.0" y2="2133.2" stroke="#262626" stroke-width="2.7"/>
<line x1="2311.5" y1="2133.2" x2="2308.0" y2="2133.2" stroke="#262626" stroke-width="2.7"/>
<line x1="333.5" y1="1927.6" x2="337.0" y2="1927.6" stroke="#262626" stroke-width="2.7"/>
<line x1="2311.5" y1="1927.6" x2="2308.0" y2="1927.6" stroke="#262626" stroke-width="2.7"/>
<line x1="333.5" y1="1722.0" x2="337.0" y2="1722.0" stroke="#262626" stroke-width="2.7"/>
<line x1="2311.5" y1="1722.0" x2="2308.0" y2="1722.0" stroke="#262626" stroke-width="2.7"/>
<line x1="333.5" y1="1516.4" x2="337.0" y2="1516.4" stroke="#262626" stroke-width="2.7"/>
<line x1="2311.5" y1="1516.4" x2="2308.0" y2="1516.4" stroke="#262626" stroke-width="2.7"/>
<line x1="333.5" y1="1310.8" x2="337.0" y2="1310.8" stroke="#262626" stroke-width="2.7"/>
<line x1="2311.5" y1="1310.8" x2="2308.0" y2="1310.8" stroke="#262626" stroke-width="2.7"/>
<line x1="333.5" y1="1105.2" x2="337.0" y2="1105.2" stroke="#262626" stroke-width="2.7"/>
<line x1="2311.5" y1="1105.2" x2="2308.0" y2="1105.2" stroke="#262626" stroke-width="2.7"/>
<line x1="333.5" y1="899.6" x2="337.0" y2="899.6" stroke="#262626" stroke-width="2.7"/>
<line x1="2311.5" y1="899.6" x2="2308.0" y2="899.6" stroke="#262626" stroke-width="2.7"/>
<line x1="333.5" y1="694.0" x2="337.0" y2="694.0" stroke="#262626" stroke-width="2.7"/>
<line x1="2311.5" y1="694.0" x2="2308.0" y2="694.0" stroke="#262626" stroke-width="2.7"/>
<line x1="333.5" y1="488.4" x2="337.0" y2="488.4" stroke="#262626" stroke-width="2.7"/>
<line x1="2311.5" y1="488.4" x2="2308.0" y2="488.4" stroke="#262626" stroke-width="2.7"/>
<path d="M336.6 363 V384 M336 2321 V2339.5 H355 M2290 2338.8 H2310" stroke="#262626" stroke-width="1.3" fill="none"/>
<text x="304.5" y="2365.6" font-size="72" text-anchor="end" fill="#262626">0</text>
<text x="304.5" y="2160.0" font-size="72" text-anchor="end" fill="#262626">100</text>
<text x="304.5" y="1954.4" font-size="72" text-anchor="end" fill="#262626">200</text>
<text x="304.5" y="1748.8" font-size="72" text-anchor="end" fill="#262626">300</text>
<text x="304.5" y="1543.2" font-size="72" text-anchor="end" fill="#262626">400</text>
<text x="304.5" y="1337.6" font-size="72" text-anchor="end" fill="#262626">500</text>
<text x="304.5" y="1132.0" font-size="72" text-anchor="end" fill="#262626">600</text>
<text x="304.5" y="926.4" font-size="72" text-anchor="end" fill="#262626">700</text>
<text x="304.5" y="720.8" font-size="72" text-anchor="end" fill="#262626">800</text>
<text x="304.5" y="515.2" font-size="72" text-anchor="end" fill="#262626">900</text>
<text x="336.3" y="2439.8" font-size="72" text-anchor="middle" fill="#262626">0</text>
<text x="747.9" y="2439.8" font-size="72" text-anchor="middle" fill="#262626">200</text>
<text x="1159.5" y="2439.8" font-size="72" text-anchor="middle" fill="#262626">400</text>
<text x="1571.1" y="2439.8" font-size="72" text-anchor="middle" fill="#262626">600</text>
<text x="1982.7" y="2439.8" font-size="72" text-anchor="middle" fill="#262626">800</text>
<text x="1187" y="2540" font-size="80" textLength="270" lengthAdjust="spacingAndGlyphs" fill="#262626">[x1km]</text>
<text transform="translate(130,1353) rotate(-90)" x="-133.5" y="0" font-size="80" textLength="268" lengthAdjust="spacingAndGlyphs" fill="#262626">[x1km]</text>
<text x="586" y="321.5" font-size="79" font-weight="bold" font-family="DejaVu Sans Condensed, DejaVu Sans, sans-serif" fill="#000" textLength="1472" lengthAdjust="spacing">RR [mm/hr] (202304040730, #:689)</text>
<text x="1673" y="2164.4" font-size="78" textLength="416" lengthAdjust="spacingAndGlyphs" fill="#000">CVMAE:0.0</text>
<text x="1673.5" y="2277" font-size="78" textLength="353" lengthAdjust="spacingAndGlyphs" fill="#000">Max:18.4</text>
<rect x="2356.0" y="361.60" width="88.3" height="60.68" fill="#333333"/>
<rect x="2356.0" y="421.68" width="88.3" height="60.68" fill="#7f00bf"/>
<rect x="2356.0" y="481.75" width="88.3" height="60.68" fill="#9300e4"/>
<rect x="2356.0" y="541.83" width="88.3" height="60.68" fill="#ad07ff"/>
<rect x="2356.0" y="601.90" width="88.3" height="60.68" fill="#c13fff"/>
<rect x="2356.0" y="661.98" width="88.3" height="60.68" fill="#c980ff"/>
<rect x="2356.0" y="722.05" width="88.3" height="60.68" fill="#b40000"/>
<rect x="2356.0" y="782.13" width="88.3" height="60.68" fill="#c00f0f"/>
<rect x="2356.0" y="842.21" width="88.3" height="60.68" fill="#cc1f24"/>
<rect x="2356.0" y="902.28" width="88.3" height="60.68" fill="#d7303c"/>
<rect x="2356.0" y="962.36" width="88.3" height="60.68" fill="#e64b56"/>
<rect x="2356.0" y="1022.43" width="88.3" height="60.68" fill="#f25c67"/>
<rect x="2356.0" y="1082.51" width="88.3" height="60.68" fill="#ff6e71"/>
<rect x="2356.0" y="1142.58" width="88.3" height="60.68" fill="#ff7f50"/>
<rect x="2356.0" y="1202.66" width="88.3" height="60.68" fill="#ff8918"/>
<rect x="2356.0" y="1262.74" width="88.3" height="60.68" fill="#ff9e00"/>
<rect x="2356.0" y="1322.81" width="88.3" height="60.68" fill="#ffaa0a"/>
<rect x="2356.0" y="1382.89" width="88.3" height="60.68" fill="#ffb91e"/>
<rect x="2356.0" y="1442.96" width="88.3" height="60.68" fill="#ffcd37"/>
<rect x="2356.0" y="1503.04" width="88.3" height="60.68" fill="#ffdc55"/>
<rect x="2356.0" y="1563.12" width="88.3" height="60.68" fill="#ffeb6e"/>
<rect x="2356.0" y="1623.19" width="88.3" height="60.68" fill="#007d00"/>
<rect x="2356.0" y="1683.27" width="88.3" height="60.68" fill="#00a000"/>
<rect x="2356.0" y="1743.34" width="88.3" height="60.68" fill="#00d700"/>
<rect x="2356.0" y="1803.42" width="88.3" height="60.68" fill="#1ef06e"/>
<rect x="2356.0" y="1863.49" width="88.3" height="60.68" fill="#69ff69"/>
<rect x="2356.0" y="1923.57" width="88.3" height="60.68" fill="#0070ff"/>
<rect x="2356.0" y="1983.65" width="88.3" height="60.68" fill="#0086ff"/>
<rect x="2356.0" y="2043.72" width="88.3" height="60.68" fill="#07a8ff"/>
<rect x="2356.0" y="2103.80" width="88.3" height="60.68" fill="#3ebeff"/>
<rect x="2356.0" y="2163.87" width="88.3" height="60.68" fill="#87d9ff"/>
<rect x="2356.0" y="2223.95" width="88.3" height="60.68" fill="#e0e0e0"/>
<rect x="2356.0" y="2284.02" width="88.3" height="60.68" fill="#ffffff"/>
<line x1="2424.3" y1="421.7" x2="2444.3" y2="421.7" stroke="#262626" stroke-width="2.7"/>
<line x1="2424.3" y1="481.8" x2="2444.3" y2="481.8" stroke="#262626" stroke-width="2.7"/>
<line x1="2424.3" y1="541.8" x2="2444.3" y2="541.8" stroke="#262626" stroke-width="2.7"/>
<line x1="2424.3" y1="601.9" x2="2444.3" y2="601.9" stroke="#262626" stroke-width="2.7"/>
<line x1="2424.3" y1="662.0" x2="2444.3" y2="662.0" stroke="#262626" stroke-width="2.7"/>
<line x1="2424.3" y1="722.1" x2="2444.3" y2="722.1" stroke="#262626" stroke-width="2.7"/>
<line x1="2424.3" y1="782.1" x2="2444.3" y2="782.1" stroke="#262626" stroke-width="2.7"/>
<line x1="2424.3" y1="842.2" x2="2444.3" y2="842.2" stroke="#262626" stroke-width="2.7"/>
<line x1="2424.3" y1="902.3" x2="2444.3" y2="902.3" stroke="#262626" stroke-width="2.7"/>
<line x1="2424.3" y1="962.4" x2="2444.3" y2="962.4" stroke="#262626" stroke-width="2.7"/>
<line x1="2424.3" y1="1022.4" x2="2444.3" y2="1022.4" stroke="#262626" stroke-width="2.7"/>
<line x1="2424.3" y1="1082.5" x2="2444.3" y2="1082.5" stroke="#262626" stroke-width="2.7"/>
<line x1="2424.3" y1="1142.6" x2="2444.3" y2="1142.6" stroke="#262626" stroke-width="2.7"/>
<line x1="2424.3" y1="1202.7" x2="2444.3" y2="1202.7" stroke="#262626" stroke-width="2.7"/>
<line x1="2424.3" y1="1262.7" x2="2444.3" y2="1262.7" stroke="#262626" stroke-width="2.7"/>
<line x1="2424.3" y1="1322.8" x2="2444.3" y2="1322.8" stroke="#262626" stroke-width="2.7"/>
<line x1="2424.3" y1="1382.9" x2="2444.3" y2="1382.9" stroke="#262626" stroke-width="2.7"/>
<line x1="2424.3" y1="1443.0" x2="2444.3" y2="1443.0" stroke="#262626" stroke-width="2.7"/>
<line x1="2424.3" y1="1503.0" x2="2444.3" y2="1503.0" stroke="#262626" stroke-width="2.7"/>
<line x1="2424.3" y1="1563.1" x2="2444.3" y2="1563.1" stroke="#262626" stroke-width="2.7"/>
<line x1="2424.3" y1="1623.2" x2="2444.3" y2="1623.2" stroke="#262626" stroke-width="2.7"/>
<line x1="2424.3" y1="1683.3" x2="2444.3" y2="1683.3" stroke="#262626" stroke-width="2.7"/>
<line x1="2424.3" y1="1743.3" x2="2444.3" y2="1743.3" stroke="#262626" stroke-width="2.7"/>
<line x1="2424.3" y1="1803.4" x2="2444.3" y2="1803.4" stroke="#262626" stroke-width="2.7"/>
<line x1="2424.3" y1="1863.5" x2="2444.3" y2="1863.5" stroke="#262626" stroke-width="2.7"/>
<line x1="2424.3" y1="1923.6" x2="2444.3" y2="1923.6" stroke="#262626" stroke-width="2.7"/>
<line x1="2424.3" y1="1983.6" x2="2444.3" y2="1983.6" stroke="#262626" stroke-width="2.7"/>
<line x1="2424.3" y1="2043.7" x2="2444.3" y2="2043.7" stroke="#262626" stroke-width="2.7"/>
<line x1="2424.3" y1="2103.8" x2="2444.3" y2="2103.8" stroke="#262626" stroke-width="2.7"/>
<line x1="2424.3" y1="2163.9" x2="2444.3" y2="2163.9" stroke="#262626" stroke-width="2.7"/>
<line x1="2424.3" y1="2223.9" x2="2444.3" y2="2223.9" stroke="#262626" stroke-width="2.7"/>
<line x1="2424.3" y1="2284.0" x2="2444.3" y2="2284.0" stroke="#262626" stroke-width="2.7"/>
<rect x="2356.0" y="361.6" width="88.3" height="1982.5" fill="none" stroke="#262626" stroke-width="2.7"/>
<text x="2470.5" y="387.3" font-size="63.5" fill="#262626">100</text>
<text x="2470.5" y="447.4" font-size="63.5" fill="#262626">90</text>
<text x="2470.5" y="507.4" font-size="63.5" fill="#262626">80</text>
<text x="2470.5" y="567.5" font-size="63.5" fill="#262626">70</text>
<text x="2470.5" y="627.6" font-size="63.5" fill="#262626">60</text>
<text x="2470.5" y="687.7" font-size="63.5" fill="#262626">50</text>
<text x="2470.5" y="747.7" font-size="63.5" fill="#262626">45</text>
<text x="2470.5" y="807.8" font-size="63.5" fill="#262626">40</text>
<text x="2470.5" y="867.9" font-size="63.5" fill="#262626">35</text>
<text x="2470.5" y="928.0" font-size="63.5" fill="#262626">30</text>
<text x="2470.5" y="988.0" font-size="63.5" fill="#262626">25</text>
<text x="2470.5" y="1048.1" font-size="63.5" fill="#262626">20</text>
<text x="2470.5" y="1108.2" font-size="63.5" fill="#262626">18</text>
<text x="2470.5" y="1168.3" font-size="63.5" fill="#262626">16</text>
<text x="2470.5" y="1228.3" font-size="63.5" fill="#262626">14</text>
<text x="2470.5" y="1288.4" font-size="63.5" fill="#262626">12</text>
<text x="2470.5" y="1348.5" font-size="63.5" fill="#262626">10</text>
<text x="2470.5" y="1408.6" font-size="63.5" fill="#262626">9.0</text>
<text x="2470.5" y="1468.6" font-size="63.5" fill="#262626">8.0</text>
<text x="2470.5" y="1528.7" font-size="63.5" fill="#262626">7.0</text>
<text x="2470.5" y="1588.8" font-size="63.5" fill="#262626">6.0</text>
<text x="2470.5" y="1648.9" font-size="63.5" fill="#262626">5.0</text>
<text x="2470.5" y="1708.9" font-size="63.5" fill="#262626">4.0</text>
<text x="2470.5" y="1769.0" font-size="63.5" fill="#262626">3.0</text>
<text x="2470.5" y="1829.1" font-size="63.5" fill="#262626">2.0</text>
<text x="2470.5" y="1889.2" font-size="63.5" fill="#262626">1.5</text>
<text x="2470.5" y="1949.2" font-size="63.5" fill="#262626">1.0</text>
<text x="2470.5" y="2009.3" font-size="63.5" fill="#262626">0.8</text>
<text x="2470.5" y="2069.4" font-size="63.5" fill="#262626">0.6</text>
<text x="2470.5" y="2129.5" font-size="63.5" fill="#262626">0.4</text>
<text x="2470.5" y="2189.6" font-size="63.5" fill="#262626">0.2</text>
<text x="2470.5" y="2249.6" font-size="63.5" fill="#262626">0.1</text>
<text x="2470.5" y="2309.7" font-size="63.5" fill="#262626">0.0</text>
<text x="2470.5" y="2369.8" font-size="63.5" fill="#262626"><</text>
<text x="2262" y="328.5" font-size="66" textLength="180" lengthAdjust="spacingAndGlyphs" fill="#000">[mmh</text>
<text x="2444" y="300" font-size="50" textLength="62" lengthAdjust="spacingAndGlyphs" fill="#000">−1</text>
<text x="2509" y="328.5" font-size="66" fill="#000">]</text>
</svg></body></html>
